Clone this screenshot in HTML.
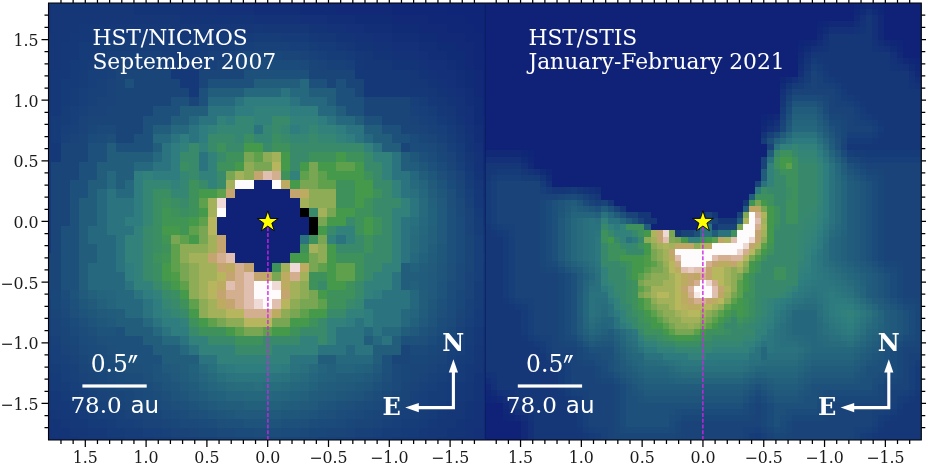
<!DOCTYPE html><html><head><meta charset="utf-8"><style>html,body{margin:0;padding:0;background:#fff;overflow:hidden}svg{display:block}text{white-space:pre}</style></head><body><svg width="926" height="471" viewBox="0 0 926 471"><defs><clipPath id="cl"><rect x="48.50" y="3.00" width="437.80" height="437.00"/></clipPath><clipPath id="cr"><rect x="485.30" y="3.00" width="436.00" height="437.00"/></clipPath></defs><rect width="926" height="471" fill="#fff"/><g clip-path="url(#cl)"><g transform="translate(42.295 -3.855) scale(9.1900 9.1900)" shape-rendering="crispEdges"><path fill="#153978" d="M0 0h1v1h-1zM4 3h10v1h-10zM23 3h1v1h-1zM3 4h3v1h-3zM13 4h6v1h-6zM29 4h1v1h-1zM2 5h2v1h-2zM32 5h1v1h-1zM2 6h2v1h-2zM34 6h1v1h-1zM2 7h1v1h-1zM34 7h1v1h-1zM1 8h2v1h-2zM14 8h3v1h-3zM34 8h6v1h-6zM1 9h1v1h-1zM15 9h2v1h-2zM35 9h5v1h-5zM1 10h1v1h-1zM16 10h1v1h-1zM35 10h7v1h-7zM1 11h1v1h-1zM42 11h1v1h-1zM1 12h1v1h-1zM43 12h1v1h-1zM44 13h1v1h-1zM45 15h1v1h-1zM0 16h2v1h-2zM0 17h2v1h-2zM0 18h1v1h-1zM46 18h1v1h-1zM0 19h1v1h-1zM0 20h1v1h-1zM0 21h1v1h-1zM47 21h1v1h-1zM0 22h1v1h-1zM47 22h1v1h-1zM0 23h1v1h-1zM0 24h1v1h-1zM0 25h1v1h-1zM0 26h1v1h-1zM48 26h1v1h-1zM0 27h1v1h-1zM48 27h1v1h-1zM48 29h1v1h-1zM48 30h1v1h-1zM48 31h1v1h-1zM48 32h1v1h-1zM47 36h1v1h-1zM47 37h1v1h-1zM46 40h1v1h-1zM0 41h1v1h-1zM46 41h1v1h-1zM0 42h1v1h-1zM45 42h1v1h-1zM1 43h1v1h-1zM45 43h1v1h-1zM1 44h2v1h-2zM44 44h1v1h-1zM2 45h2v1h-2zM43 45h1v1h-1zM3 46h2v1h-2zM42 46h1v1h-1zM5 47h2v1h-2zM41 47h1v1h-1zM7 48h2v1h-2zM38 48h3v1h-3z"/><path fill="#153778" d="M1 0h5v1h-5zM1 1h9v1h-9zM1 2h14v1h-14zM1 3h3v1h-3zM14 3h9v1h-9zM24 3h5v1h-5zM0 4h3v1h-3zM30 4h2v1h-2zM0 5h2v1h-2zM33 5h1v1h-1zM0 6h2v1h-2zM35 6h1v1h-1zM0 7h2v1h-2zM35 7h3v1h-3zM0 8h1v1h-1zM40 8h1v1h-1zM0 9h1v1h-1zM40 9h2v1h-2zM0 10h1v1h-1zM42 10h1v1h-1zM0 11h1v1h-1zM43 11h1v1h-1zM0 12h1v1h-1zM44 12h1v1h-1zM0 13h1v1h-1zM0 14h1v1h-1zM45 14h1v1h-1zM0 15h1v1h-1zM46 17h1v1h-1zM47 20h1v1h-1zM48 25h1v1h-1zM48 33h1v1h-1zM48 34h1v1h-1zM48 35h1v1h-1zM47 38h1v1h-1zM47 39h1v1h-1zM47 40h1v1h-1zM46 42h1v1h-1zM0 43h1v1h-1zM46 43h1v1h-1zM0 44h1v1h-1zM45 44h1v1h-1zM1 45h1v1h-1zM44 45h2v1h-2zM2 46h1v1h-1zM43 46h2v1h-2zM3 47h2v1h-2zM42 47h2v1h-2zM4 48h3v1h-3zM41 48h2v1h-2z"/><path fill="#143478" d="M6 0h5v1h-5zM0 1h1v1h-1zM10 1h5v1h-5zM0 2h1v1h-1zM15 2h8v1h-8zM0 3h1v1h-1zM29 3h2v1h-2zM32 4h2v1h-2zM34 5h2v1h-2zM36 6h2v1h-2zM38 7h3v1h-3zM41 8h1v1h-1zM42 9h1v1h-1zM43 10h1v1h-1zM44 11h1v1h-1zM45 13h1v1h-1zM46 15h1v1h-1zM46 16h1v1h-1zM47 19h1v1h-1zM48 23h1v1h-1zM48 24h1v1h-1zM48 36h1v1h-1zM48 37h1v1h-1zM48 38h1v1h-1zM48 39h1v1h-1zM47 41h1v1h-1zM47 42h1v1h-1zM47 43h1v1h-1zM46 44h1v1h-1zM0 45h1v1h-1zM46 45h1v1h-1zM0 46h2v1h-2zM45 46h1v1h-1zM1 47h2v1h-2zM44 47h2v1h-2zM2 48h2v1h-2zM43 48h2v1h-2z"/><path fill="#133278" d="M11 0h5v1h-5zM15 1h4v1h-4zM23 2h5v1h-5zM31 3h2v1h-2zM34 4h2v1h-2zM36 5h2v1h-2zM38 6h3v1h-3zM41 7h1v1h-1zM42 8h1v1h-1zM43 9h1v1h-1zM44 10h1v1h-1zM45 11h1v1h-1zM45 12h1v1h-1zM46 14h1v1h-1zM47 17h1v1h-1zM47 18h1v1h-1zM48 22h1v1h-1zM48 40h1v1h-1zM48 41h1v1h-1zM48 42h1v1h-1zM48 43h1v1h-1zM47 44h2v1h-2zM47 45h1v1h-1zM46 46h2v1h-2zM0 47h1v1h-1zM46 47h1v1h-1zM0 48h2v1h-2zM45 48h2v1h-2z"/><path fill="#133078" d="M16 0h2v1h-2zM19 1h4v1h-4zM28 2h3v1h-3zM33 3h2v1h-2zM36 4h2v1h-2zM38 5h3v1h-3zM41 6h1v1h-1zM42 7h2v1h-2zM43 8h2v1h-2zM44 9h1v1h-1zM45 10h1v1h-1zM46 12h1v1h-1zM46 13h1v1h-1zM47 16h1v1h-1zM48 20h1v1h-1zM48 21h1v1h-1zM48 45h1v1h-1zM48 46h1v1h-1zM47 47h2v1h-2zM47 48h2v1h-2z"/><path fill="#122e77" d="M18 0h3v1h-3zM23 1h5v1h-5zM31 2h3v1h-3zM35 3h3v1h-3zM38 4h3v1h-3zM41 5h2v1h-2zM42 6h2v1h-2zM44 7h1v1h-1zM45 8h1v1h-1zM45 9h1v1h-1zM46 10h1v1h-1zM46 11h1v1h-1zM47 14h1v1h-1zM47 15h1v1h-1zM48 19h1v1h-1z"/><path fill="#112c77" d="M21 0h2v1h-2zM28 1h4v1h-4zM34 2h4v1h-4zM38 3h3v1h-3zM41 4h2v1h-2zM43 5h2v1h-2zM44 6h2v1h-2zM45 7h1v1h-1zM46 8h1v1h-1zM46 9h1v1h-1zM47 11h1v1h-1zM47 12h1v1h-1zM47 13h1v1h-1zM48 17h1v1h-1zM48 18h1v1h-1z"/><path fill="#112977" d="M23 0h5v1h-5zM32 1h6v1h-6zM38 2h4v1h-4zM41 3h3v1h-3zM43 4h3v1h-3zM45 5h2v1h-2zM46 6h1v1h-1zM46 7h1v1h-1zM47 8h1v1h-1zM47 9h1v1h-1zM47 10h1v1h-1zM48 13h1v1h-1zM48 14h1v1h-1zM48 15h1v1h-1zM48 16h1v1h-1z"/><path fill="#102777" d="M28 0h9v1h-9zM38 1h6v1h-6zM42 2h4v1h-4zM44 3h3v1h-3zM46 4h2v1h-2zM47 5h1v1h-1zM47 6h2v1h-2zM47 7h2v1h-2zM48 8h1v1h-1zM48 9h1v1h-1zM48 10h1v1h-1zM48 11h1v1h-1zM48 12h1v1h-1z"/><path fill="#0f2577" d="M37 0h12v1h-12zM44 1h5v1h-5zM46 2h3v1h-3zM47 3h2v1h-2zM48 4h1v1h-1zM48 5h1v1h-1z"/><path fill="#163b79" d="M6 4h7v1h-7zM19 4h4v1h-4zM26 4h3v1h-3zM4 5h3v1h-3zM13 5h5v1h-5zM30 5h2v1h-2zM4 6h2v1h-2zM14 6h3v1h-3zM33 6h1v1h-1zM3 7h2v1h-2zM14 7h3v1h-3zM3 8h1v1h-1zM2 9h2v1h-2zM2 10h1v1h-1zM2 11h1v1h-1zM1 13h1v1h-1zM43 13h1v1h-1zM1 14h1v1h-1zM44 14h1v1h-1zM1 15h1v1h-1zM45 16h1v1h-1zM46 19h1v1h-1zM47 23h1v1h-1zM48 28h1v1h-1zM47 34h1v1h-1zM47 35h1v1h-1zM46 38h1v1h-1zM0 39h1v1h-1zM46 39h1v1h-1zM0 40h1v1h-1zM45 40h1v1h-1zM1 41h1v1h-1zM45 41h1v1h-1zM1 42h1v1h-1zM44 42h1v1h-1zM2 43h1v1h-1zM44 43h1v1h-1zM3 44h1v1h-1zM43 44h1v1h-1zM4 45h1v1h-1zM42 45h1v1h-1zM5 46h2v1h-2zM41 46h1v1h-1zM7 47h2v1h-2zM39 47h2v1h-2zM9 48h3v1h-3zM36 48h2v1h-2z"/><path fill="#173d79" d="M23 4h3v1h-3zM7 5h6v1h-6zM18 5h3v1h-3zM29 5h1v1h-1zM6 6h1v1h-1zM13 6h1v1h-1zM17 6h1v1h-1zM31 6h2v1h-2zM5 7h1v1h-1zM4 8h1v1h-1zM4 9h1v1h-1zM3 10h1v1h-1zM3 11h1v1h-1zM41 11h1v1h-1zM2 12h1v1h-1zM42 12h1v1h-1zM2 13h1v1h-1zM44 15h1v1h-1zM45 17h1v1h-1zM46 20h1v1h-1zM47 24h1v1h-1zM47 25h1v1h-1zM47 31h1v1h-1zM47 32h1v1h-1zM47 33h1v1h-1zM46 36h1v1h-1zM0 37h1v1h-1zM46 37h1v1h-1zM0 38h1v1h-1zM45 39h1v1h-1zM1 40h1v1h-1zM44 41h1v1h-1zM2 42h1v1h-1zM43 42h1v1h-1zM3 43h1v1h-1zM42 43h2v1h-2zM4 44h1v1h-1zM42 44h1v1h-1zM5 45h1v1h-1zM41 45h1v1h-1zM7 46h1v1h-1zM39 46h2v1h-2zM9 47h2v1h-2zM37 47h2v1h-2zM12 48h2v1h-2zM34 48h2v1h-2z"/><path fill="#173f79" d="M21 5h2v1h-2zM27 5h2v1h-2zM7 6h6v1h-6zM18 6h2v1h-2zM30 6h1v1h-1zM6 7h2v1h-2zM13 7h1v1h-1zM17 7h1v1h-1zM33 7h1v1h-1zM5 8h2v1h-2zM5 9h1v1h-1zM4 10h1v1h-1zM4 11h1v1h-1zM40 11h1v1h-1zM3 12h1v1h-1zM41 12h1v1h-1zM3 13h1v1h-1zM42 13h1v1h-1zM2 14h1v1h-1zM43 14h1v1h-1zM44 16h1v1h-1zM45 18h1v1h-1zM46 21h1v1h-1zM47 26h1v1h-1zM47 27h1v1h-1zM47 28h1v1h-1zM47 29h1v1h-1zM47 30h1v1h-1zM0 35h1v1h-1zM46 35h1v1h-1zM0 36h1v1h-1zM1 38h1v1h-1zM45 38h1v1h-1zM1 39h1v1h-1zM44 39h1v1h-1zM2 40h1v1h-1zM44 40h1v1h-1zM2 41h1v1h-1zM43 41h1v1h-1zM3 42h1v1h-1zM42 42h1v1h-1zM4 43h1v1h-1zM41 43h1v1h-1zM5 44h1v1h-1zM41 44h1v1h-1zM6 45h2v1h-2zM39 45h2v1h-2zM8 46h2v1h-2zM38 46h1v1h-1zM11 47h2v1h-2zM36 47h1v1h-1zM14 48h3v1h-3zM32 48h2v1h-2z"/><path fill="#184179" d="M23 5h4v1h-4zM20 6h1v1h-1zM29 6h1v1h-1zM8 7h5v1h-5zM18 7h1v1h-1zM31 7h2v1h-2zM7 8h1v1h-1zM6 9h1v1h-1zM5 10h2v1h-2zM5 11h1v1h-1zM4 12h1v1h-1zM40 12h1v1h-1zM41 13h1v1h-1zM3 14h1v1h-1zM42 14h1v1h-1zM2 15h1v1h-1zM43 15h1v1h-1zM46 22h1v1h-1zM0 33h1v1h-1zM46 33h1v1h-1zM0 34h1v1h-1zM46 34h1v1h-1zM45 36h1v1h-1zM1 37h1v1h-1zM45 37h1v1h-1zM44 38h1v1h-1zM2 39h1v1h-1zM3 40h1v1h-1zM43 40h1v1h-1zM3 41h1v1h-1zM42 41h1v1h-1zM4 42h1v1h-1zM41 42h1v1h-1zM5 43h1v1h-1zM40 43h1v1h-1zM6 44h2v1h-2zM40 44h1v1h-1zM8 45h1v1h-1zM38 45h1v1h-1zM10 46h1v1h-1zM37 46h1v1h-1zM13 47h1v1h-1zM34 47h2v1h-2zM17 48h2v1h-2zM30 48h2v1h-2z"/><path fill="#194379" d="M21 6h1v1h-1zM28 6h1v1h-1zM19 7h2v1h-2zM30 7h1v1h-1zM7 9h1v1h-1zM7 10h1v1h-1zM6 11h2v1h-2zM5 12h2v1h-2zM4 13h1v1h-1zM40 13h1v1h-1zM4 14h1v1h-1zM41 14h1v1h-1zM3 15h1v1h-1zM44 17h1v1h-1zM45 19h1v1h-1zM46 23h1v1h-1zM46 24h1v1h-1zM46 25h1v1h-1zM46 30h1v1h-1zM46 31h1v1h-1zM0 32h1v1h-1zM46 32h1v1h-1zM1 35h1v1h-1zM45 35h1v1h-1zM1 36h1v1h-1zM44 37h1v1h-1zM2 38h1v1h-1zM3 39h1v1h-1zM43 39h1v1h-1zM42 40h1v1h-1zM4 41h1v1h-1zM41 41h1v1h-1zM5 42h1v1h-1zM40 42h1v1h-1zM6 43h1v1h-1zM8 44h1v1h-1zM39 44h1v1h-1zM9 45h2v1h-2zM37 45h1v1h-1zM11 46h2v1h-2zM36 46h1v1h-1zM14 47h2v1h-2zM33 47h1v1h-1zM19 48h2v1h-2zM28 48h2v1h-2z"/><path fill="#194579" d="M22 6h2v1h-2zM26 6h2v1h-2zM21 7h1v1h-1zM29 7h1v1h-1zM8 8h6v1h-6zM17 8h5v1h-5zM29 8h5v1h-5zM8 9h1v1h-1zM10 9h5v1h-5zM17 9h1v1h-1zM31 9h1v1h-1zM33 9h2v1h-2zM8 10h8v1h-8zM34 10h1v1h-1zM8 11h6v1h-6zM16 11h1v1h-1zM35 11h5v1h-5zM7 12h5v1h-5zM35 12h5v1h-5zM5 13h6v1h-6zM37 13h3v1h-3zM8 14h3v1h-3zM39 14h2v1h-2zM4 15h1v1h-1zM8 15h2v1h-2zM42 15h1v1h-1zM2 16h3v1h-3zM39 16h1v1h-1zM43 16h1v1h-1zM2 17h3v1h-3zM1 18h3v1h-3zM44 18h1v1h-1zM1 19h3v1h-3zM1 20h2v1h-2zM45 20h1v1h-1zM1 21h2v1h-2zM1 22h2v1h-2zM1 23h2v1h-2zM1 24h2v1h-2zM1 25h1v1h-1zM1 26h1v1h-1zM46 26h1v1h-1zM1 27h1v1h-1zM46 27h1v1h-1zM0 28h2v1h-2zM46 28h1v1h-1zM0 29h2v1h-2zM46 29h1v1h-1zM0 30h2v1h-2zM0 31h2v1h-2zM1 34h1v1h-1zM45 34h1v1h-1zM2 36h1v1h-1zM2 37h1v1h-1zM3 38h1v1h-1zM39 38h1v1h-1zM43 38h1v1h-1zM38 39h2v1h-2zM42 39h1v1h-1zM4 40h1v1h-1zM40 40h2v1h-2zM5 41h1v1h-1zM40 41h1v1h-1zM6 42h1v1h-1zM39 42h1v1h-1zM7 43h2v1h-2zM39 43h1v1h-1zM9 44h1v1h-1zM38 44h1v1h-1zM11 45h1v1h-1zM36 45h1v1h-1zM13 46h1v1h-1zM34 46h2v1h-2zM16 47h1v1h-1zM31 47h2v1h-2zM21 48h2v1h-2zM26 48h2v1h-2z"/><path fill="#1a477a" d="M24 6h2v1h-2zM5 14h1v1h-1zM41 15h1v1h-1zM43 17h1v1h-1zM45 21h1v1h-1zM1 32h1v1h-1zM45 32h1v1h-1zM1 33h1v1h-1zM45 33h1v1h-1zM2 35h1v1h-1zM44 36h1v1h-1zM3 37h1v1h-1zM43 37h1v1h-1zM42 38h1v1h-1zM4 39h1v1h-1zM40 39h2v1h-2zM5 40h1v1h-1zM39 40h1v1h-1zM6 41h1v1h-1zM39 41h1v1h-1zM7 42h1v1h-1zM9 43h1v1h-1zM38 43h1v1h-1zM10 44h1v1h-1zM37 44h1v1h-1zM12 45h1v1h-1zM35 45h1v1h-1zM14 46h1v1h-1zM33 46h1v1h-1zM17 47h2v1h-2zM29 47h2v1h-2zM23 48h3v1h-3z"/><path fill="#1b497a" d="M22 7h1v1h-1zM28 7h1v1h-1zM6 14h2v1h-2zM42 16h1v1h-1zM44 19h1v1h-1zM45 22h1v1h-1zM45 23h1v1h-1zM45 29h1v1h-1zM45 30h1v1h-1zM45 31h1v1h-1zM2 34h1v1h-1zM44 35h1v1h-1zM3 36h1v1h-1zM4 38h1v1h-1zM40 38h2v1h-2zM5 39h1v1h-1zM6 40h1v1h-1zM38 40h1v1h-1zM7 41h1v1h-1zM38 41h1v1h-1zM8 42h2v1h-2zM38 42h1v1h-1zM10 43h1v1h-1zM37 43h1v1h-1zM11 44h1v1h-1zM36 44h1v1h-1zM13 45h1v1h-1zM34 45h1v1h-1zM15 46h2v1h-2zM32 46h1v1h-1zM19 47h2v1h-2zM28 47h1v1h-1z"/><path fill="#1b4b7a" d="M23 7h5v1h-5zM5 15h1v1h-1zM40 15h1v1h-1zM41 16h1v1h-1zM43 18h1v1h-1zM44 20h1v1h-1zM45 24h1v1h-1zM45 25h1v1h-1zM45 26h1v1h-1zM45 27h1v1h-1zM45 28h1v1h-1zM2 33h1v1h-1zM44 33h1v1h-1zM44 34h1v1h-1zM3 35h1v1h-1zM43 36h1v1h-1zM4 37h1v1h-1zM42 37h1v1h-1zM5 38h1v1h-1zM6 39h1v1h-1zM7 40h1v1h-1zM8 41h1v1h-1zM10 42h1v1h-1zM11 43h1v1h-1zM12 44h1v1h-1zM35 44h1v1h-1zM14 45h1v1h-1zM33 45h1v1h-1zM17 46h1v1h-1zM30 46h2v1h-2zM21 47h2v1h-2zM26 47h2v1h-2z"/><path fill="#1d517b" d="M22 8h7v1h-7zM9 9h1v1h-1zM18 9h5v1h-5zM29 9h2v1h-2zM32 9h1v1h-1zM17 10h1v1h-1zM32 10h2v1h-2zM14 11h2v1h-2zM17 11h1v1h-1zM32 11h3v1h-3zM12 12h3v1h-3zM33 12h2v1h-2zM11 13h3v1h-3zM35 13h2v1h-2zM11 14h1v1h-1zM37 14h2v1h-2zM10 15h2v1h-2zM38 15h2v1h-2zM5 16h2v1h-2zM8 16h4v1h-4zM5 17h2v1h-2zM41 17h1v1h-1zM4 18h2v1h-2zM42 18h1v1h-1zM4 19h2v1h-2zM3 20h2v1h-2zM3 21h2v1h-2zM3 22h1v1h-1zM3 23h1v1h-1zM44 23h1v1h-1zM3 24h1v1h-1zM44 24h1v1h-1zM2 25h2v1h-2zM44 25h1v1h-1zM2 26h2v1h-2zM44 26h1v1h-1zM2 27h2v1h-2zM44 27h1v1h-1zM2 28h2v1h-2zM44 28h1v1h-1zM2 29h2v1h-2zM2 30h2v1h-2zM2 31h2v1h-2zM3 33h1v1h-1zM43 33h1v1h-1zM8 36h1v1h-1zM7 37h4v1h-4zM39 37h2v1h-2zM8 38h4v1h-4zM8 39h5v1h-5zM37 39h1v1h-1zM11 40h1v1h-1zM37 40h1v1h-1zM36 42h1v1h-1zM15 44h1v1h-1zM32 44h1v1h-1zM17 45h1v1h-1zM30 45h1v1h-1zM20 46h2v1h-2zM26 46h2v1h-2z"/><path fill="#225e7c" d="M23 9h5v1h-5zM18 10h4v1h-4zM29 10h3v1h-3zM31 11h1v1h-1zM15 12h3v1h-3zM32 12h1v1h-1zM14 13h2v1h-2zM34 13h1v1h-1zM12 14h2v1h-2zM35 14h2v1h-2zM36 15h2v1h-2zM7 16h1v1h-1zM12 16h1v1h-1zM37 16h2v1h-2zM7 17h5v1h-5zM39 17h1v1h-1zM6 18h4v1h-4zM39 18h1v1h-1zM6 19h1v1h-1zM8 19h2v1h-2zM41 19h1v1h-1zM5 20h2v1h-2zM8 20h1v1h-1zM5 21h1v1h-1zM42 21h1v1h-1zM4 22h2v1h-2zM4 23h2v1h-2zM4 24h2v1h-2zM4 25h1v1h-1zM4 26h1v1h-1zM4 27h2v1h-2zM42 27h1v1h-1zM4 28h2v1h-2zM4 29h1v1h-1zM39 29h1v1h-1zM41 29h1v1h-1zM4 30h1v1h-1zM39 30h2v1h-2zM4 31h1v1h-1zM39 31h1v1h-1zM41 32h1v1h-1zM41 33h1v1h-1zM8 34h1v1h-1zM8 35h3v1h-3zM9 36h3v1h-3zM39 36h1v1h-1zM11 37h2v1h-2zM35 37h1v1h-1zM38 37h1v1h-1zM12 38h3v1h-3zM36 38h3v1h-3zM13 39h4v1h-4zM30 39h2v1h-2zM36 39h1v1h-1zM15 40h1v1h-1zM32 41h2v1h-2zM30 42h1v1h-1zM20 44h2v1h-2zM26 44h1v1h-1z"/><path fill="#26687d" d="M28 9h1v1h-1zM22 10h4v1h-4zM27 10h2v1h-2zM18 11h3v1h-3zM28 11h3v1h-3zM30 12h2v1h-2zM16 13h1v1h-1zM32 13h2v1h-2zM14 14h2v1h-2zM12 15h2v1h-2zM35 15h1v1h-1zM12 17h1v1h-1zM10 18h2v1h-2zM7 19h1v1h-1zM7 20h1v1h-1zM9 20h1v1h-1zM6 21h1v1h-1zM8 21h2v1h-2zM6 22h1v1h-1zM6 23h1v1h-1zM6 24h1v1h-1zM41 24h1v1h-1zM5 25h2v1h-2zM5 26h3v1h-3zM6 27h2v1h-2zM6 28h2v1h-2zM40 28h1v1h-1zM5 29h3v1h-3zM5 30h4v1h-4zM5 31h4v1h-4zM8 32h2v1h-2zM8 33h3v1h-3zM9 34h2v1h-2zM39 34h1v1h-1zM11 35h1v1h-1zM39 35h1v1h-1zM12 36h1v1h-1zM35 36h1v1h-1zM37 36h2v1h-2zM13 37h2v1h-2zM36 37h1v1h-1zM15 38h1v1h-1zM33 38h1v1h-1zM32 39h4v1h-4zM19 42h1v1h-1z"/><path fill="#2b737e" d="M26 10h1v1h-1zM21 11h1v1h-1zM27 11h1v1h-1zM18 12h3v1h-3zM17 13h2v1h-2zM31 13h1v1h-1zM16 14h1v1h-1zM23 14h1v1h-1zM33 14h2v1h-2zM14 15h1v1h-1zM16 15h1v1h-1zM34 15h1v1h-1zM13 16h1v1h-1zM36 16h1v1h-1zM13 17h1v1h-1zM17 17h1v1h-1zM38 17h1v1h-1zM12 18h2v1h-2zM17 18h1v1h-1zM38 18h1v1h-1zM38 19h2v1h-2zM39 20h1v1h-1zM7 21h1v1h-1zM39 21h1v1h-1zM7 22h3v1h-3zM7 23h3v1h-3zM7 24h2v1h-2zM39 24h1v1h-1zM7 25h3v1h-3zM39 25h1v1h-1zM8 26h1v1h-1zM28 26h1v1h-1zM32 26h1v1h-1zM39 26h1v1h-1zM8 27h1v1h-1zM39 27h1v1h-1zM8 28h1v1h-1zM39 28h1v1h-1zM8 29h1v1h-1zM38 30h1v1h-1zM9 31h1v1h-1zM38 31h1v1h-1zM10 32h1v1h-1zM37 32h3v1h-3zM11 33h1v1h-1zM35 33h5v1h-5zM11 34h1v1h-1zM36 34h3v1h-3zM12 35h1v1h-1zM34 35h1v1h-1zM36 35h3v1h-3zM13 36h1v1h-1zM32 36h3v1h-3zM36 36h1v1h-1zM15 37h1v1h-1zM32 37h3v1h-3zM37 37h1v1h-1zM16 38h1v1h-1zM30 38h3v1h-3zM34 38h2v1h-2zM17 39h2v1h-2zM27 39h3v1h-3zM20 41h1v1h-1zM25 41h1v1h-1z"/><path fill="#2f7d7f" d="M22 11h5v1h-5zM21 12h2v1h-2zM27 12h3v1h-3zM20 13h1v1h-1zM30 13h1v1h-1zM17 14h1v1h-1zM27 14h1v1h-1zM32 14h1v1h-1zM15 15h1v1h-1zM17 15h1v1h-1zM33 15h1v1h-1zM14 16h1v1h-1zM14 17h1v1h-1zM14 18h1v1h-1zM10 19h1v1h-1zM12 19h3v1h-3zM10 20h1v1h-1zM10 21h1v1h-1zM10 22h1v1h-1zM10 23h1v1h-1zM9 24h2v1h-2zM9 29h1v1h-1zM9 30h1v1h-1zM11 32h1v1h-1zM36 32h1v1h-1zM12 33h1v1h-1zM12 34h1v1h-1zM35 34h1v1h-1zM13 35h2v1h-2zM33 35h1v1h-1zM35 35h1v1h-1zM14 36h2v1h-2zM21 40h1v1h-1zM24 40h2v1h-2z"/><path fill="#32827b" d="M23 12h4v1h-4zM19 13h1v1h-1zM23 13h2v1h-2zM27 13h3v1h-3zM18 14h1v1h-1zM28 14h1v1h-1zM30 14h2v1h-2zM32 15h1v1h-1zM15 16h1v1h-1zM17 16h1v1h-1zM35 16h1v1h-1zM18 17h1v1h-1zM36 17h2v1h-2zM18 18h1v1h-1zM37 18h1v1h-1zM11 19h1v1h-1zM17 19h2v1h-2zM27 19h1v1h-1zM37 19h1v1h-1zM14 20h1v1h-1zM18 20h1v1h-1zM38 20h1v1h-1zM38 21h1v1h-1zM39 22h1v1h-1zM38 23h2v1h-2zM38 24h1v1h-1zM10 25h1v1h-1zM32 25h2v1h-2zM38 25h1v1h-1zM9 26h2v1h-2zM31 26h1v1h-1zM33 26h1v1h-1zM38 26h1v1h-1zM9 27h2v1h-2zM38 27h1v1h-1zM9 28h2v1h-2zM38 28h1v1h-1zM10 29h1v1h-1zM37 29h2v1h-2zM10 30h1v1h-1zM36 30h2v1h-2zM10 31h2v1h-2zM35 31h3v1h-3zM12 32h1v1h-1zM35 32h1v1h-1zM13 34h1v1h-1zM33 34h2v1h-2zM15 35h1v1h-1zM31 35h2v1h-2zM31 36h1v1h-1zM16 37h2v1h-2zM28 37h2v1h-2zM31 37h1v1h-1zM17 38h4v1h-4zM25 38h5v1h-5zM19 39h8v1h-8z"/><path fill="#358672" d="M21 13h2v1h-2zM19 14h4v1h-4zM24 14h1v1h-1zM26 14h1v1h-1zM29 14h1v1h-1zM21 15h1v1h-1zM23 15h2v1h-2zM27 15h2v1h-2zM30 15h2v1h-2zM15 19h1v1h-1zM11 20h3v1h-3zM15 20h1v1h-1zM11 21h1v1h-1zM14 21h2v1h-2zM11 22h1v1h-1zM11 23h1v1h-1zM11 24h1v1h-1zM13 33h1v1h-1zM34 33h1v1h-1zM14 34h1v1h-1z"/><path fill="#388a6b" d="M25 13h2v1h-2zM25 14h1v1h-1zM18 15h3v1h-3zM26 15h1v1h-1zM29 15h1v1h-1zM16 16h1v1h-1zM18 16h1v1h-1zM20 16h2v1h-2zM24 16h1v1h-1zM27 16h8v1h-8zM15 17h2v1h-2zM19 17h1v1h-1zM27 17h2v1h-2zM35 17h1v1h-1zM16 18h1v1h-1zM27 18h1v1h-1zM35 18h2v1h-2zM16 19h1v1h-1zM19 19h1v1h-1zM36 19h1v1h-1zM17 20h1v1h-1zM19 20h1v1h-1zM36 20h2v1h-2zM37 21h1v1h-1zM15 22h1v1h-1zM36 22h3v1h-3zM29 23h1v1h-1zM36 23h2v1h-2zM33 24h1v1h-1zM37 24h1v1h-1zM11 25h1v1h-1zM31 25h1v1h-1zM37 25h1v1h-1zM11 26h1v1h-1zM34 26h1v1h-1zM36 26h2v1h-2zM11 27h1v1h-1zM32 27h3v1h-3zM36 27h2v1h-2zM11 28h1v1h-1zM35 28h3v1h-3zM11 29h1v1h-1zM35 29h2v1h-2zM11 30h1v1h-1zM35 30h1v1h-1zM12 31h1v1h-1zM30 31h1v1h-1zM34 31h1v1h-1zM13 32h1v1h-1zM34 32h1v1h-1zM14 33h1v1h-1zM33 33h1v1h-1zM15 34h1v1h-1zM31 34h2v1h-2zM30 35h1v1h-1zM16 36h1v1h-1zM28 36h3v1h-3zM18 37h3v1h-3zM24 37h4v1h-4zM30 37h1v1h-1zM21 38h4v1h-4z"/><path fill="#1c4d7a" d="M6 15h1v1h-1zM40 16h1v1h-1zM42 17h1v1h-1zM44 31h1v1h-1zM2 32h1v1h-1zM44 32h1v1h-1zM43 35h1v1h-1zM4 36h1v1h-1zM5 37h1v1h-1zM6 38h1v1h-1zM7 39h1v1h-1zM8 40h1v1h-1zM9 41h2v1h-2zM11 42h1v1h-1zM37 42h1v1h-1zM12 43h1v1h-1zM36 43h1v1h-1zM13 44h1v1h-1zM34 44h1v1h-1zM15 45h1v1h-1zM32 45h1v1h-1zM18 46h1v1h-1zM29 46h1v1h-1zM23 47h3v1h-3z"/><path fill="#1d4f7a" d="M7 15h1v1h-1zM43 19h1v1h-1zM44 21h1v1h-1zM44 22h1v1h-1zM44 29h1v1h-1zM44 30h1v1h-1zM3 34h1v1h-1zM43 34h1v1h-1zM4 35h1v1h-1zM5 36h1v1h-1zM42 36h1v1h-1zM6 37h1v1h-1zM41 37h1v1h-1zM7 38h1v1h-1zM9 40h2v1h-2zM11 41h1v1h-1zM37 41h1v1h-1zM12 42h1v1h-1zM13 43h1v1h-1zM35 43h1v1h-1zM14 44h1v1h-1zM33 44h1v1h-1zM16 45h1v1h-1zM31 45h1v1h-1zM19 46h1v1h-1zM28 46h1v1h-1z"/><path fill="#3b8e62" d="M22 15h1v1h-1zM25 15h1v1h-1zM15 18h1v1h-1zM12 21h2v1h-2zM12 22h1v1h-1zM14 22h1v1h-1zM12 23h1v1h-1zM15 23h1v1h-1zM12 24h1v1h-1zM12 25h1v1h-1zM12 26h1v1h-1zM12 27h1v1h-1zM12 29h1v1h-1zM12 30h1v1h-1zM14 32h1v1h-1z"/><path fill="#3e915b" d="M19 16h1v1h-1zM25 16h2v1h-2zM20 17h2v1h-2zM29 17h3v1h-3zM33 17h2v1h-2zM19 18h2v1h-2zM26 19h1v1h-1zM35 19h1v1h-1zM16 20h1v1h-1zM32 20h2v1h-2zM16 21h1v1h-1zM32 21h2v1h-2zM36 21h1v1h-1zM13 22h1v1h-1zM16 22h1v1h-1zM32 22h2v1h-2zM35 22h1v1h-1zM14 23h1v1h-1zM16 23h1v1h-1zM34 23h2v1h-2zM34 24h1v1h-1zM36 24h1v1h-1zM34 25h1v1h-1zM36 25h1v1h-1zM29 26h1v1h-1zM35 26h1v1h-1zM13 27h1v1h-1zM28 27h1v1h-1zM35 27h1v1h-1zM12 28h1v1h-1zM32 28h3v1h-3zM25 29h1v1h-1zM34 29h1v1h-1zM29 30h2v1h-2zM34 30h1v1h-1zM13 31h1v1h-1zM29 31h1v1h-1zM33 31h1v1h-1zM31 32h3v1h-3zM15 33h1v1h-1zM31 33h2v1h-2zM16 35h1v1h-1zM29 35h1v1h-1zM17 36h3v1h-3zM27 36h1v1h-1zM21 37h3v1h-3z"/><path fill="#44994b" d="M22 16h2v1h-2zM26 17h1v1h-1zM32 17h1v1h-1zM21 18h1v1h-1zM26 18h1v1h-1zM28 18h1v1h-1zM30 18h2v1h-2zM34 18h1v1h-1zM31 19h4v1h-4zM27 20h1v1h-1zM34 20h2v1h-2zM17 21h2v1h-2zM34 21h2v1h-2zM34 22h1v1h-1zM17 23h1v1h-1zM32 23h2v1h-2zM16 24h1v1h-1zM31 24h2v1h-2zM35 24h1v1h-1zM13 25h2v1h-2zM30 25h1v1h-1zM35 25h1v1h-1zM16 26h1v1h-1zM31 27h1v1h-1zM27 28h2v1h-2zM31 28h1v1h-1zM13 29h1v1h-1zM31 29h1v1h-1zM13 30h1v1h-1zM31 30h1v1h-1zM14 31h1v1h-1zM31 31h2v1h-2zM15 32h1v1h-1zM30 32h1v1h-1zM16 34h1v1h-1zM29 34h2v1h-2zM17 35h1v1h-1zM27 35h2v1h-2zM20 36h1v1h-1zM25 36h2v1h-2z"/><path fill="#78a652" d="M22 17h1v1h-1zM23 18h2v1h-2zM29 18h1v1h-1zM20 19h1v1h-1zM29 19h1v1h-1zM28 20h2v1h-2zM31 23h1v1h-1zM30 24h1v1h-1zM17 25h1v1h-1zM14 26h1v1h-1zM17 26h1v1h-1zM30 26h1v1h-1zM29 28h1v1h-1zM15 29h1v1h-1zM29 29h1v1h-1zM15 30h1v1h-1zM25 30h1v1h-1zM29 32h1v1h-1zM28 33h2v1h-2zM27 34h1v1h-1zM19 35h1v1h-1zM25 35h2v1h-2zM22 36h2v1h-2z"/><path fill="#5ea04b" d="M23 17h1v1h-1zM32 18h2v1h-2zM28 19h1v1h-1zM30 19h1v1h-1zM30 20h2v1h-2zM19 21h1v1h-1zM17 22h1v1h-1zM17 24h1v1h-1zM16 25h1v1h-1zM15 26h1v1h-1zM14 27h1v1h-1zM14 28h1v1h-1zM14 29h1v1h-1zM30 29h1v1h-1zM32 29h2v1h-2zM32 30h2v1h-2zM15 31h1v1h-1zM16 33h1v1h-1zM30 33h1v1h-1zM28 34h1v1h-1zM18 35h1v1h-1zM21 36h1v1h-1zM24 36h1v1h-1z"/><path fill="#8eac56" d="M24 17h1v1h-1zM22 18h1v1h-1zM22 19h1v1h-1zM29 21h3v1h-3zM29 22h3v1h-3zM15 27h3v1h-3zM30 27h1v1h-1zM15 28h1v1h-1zM30 28h1v1h-1zM16 29h1v1h-1zM16 30h1v1h-1zM16 31h1v1h-1zM28 31h1v1h-1zM16 32h1v1h-1zM28 32h1v1h-1zM17 33h1v1h-1zM27 33h1v1h-1zM17 34h1v1h-1zM26 34h1v1h-1zM20 35h2v1h-2z"/><path fill="#a3b25a" d="M25 17h1v1h-1zM21 19h1v1h-1zM20 20h1v1h-1zM18 22h1v1h-1zM28 22h1v1h-1zM18 23h1v1h-1zM30 23h1v1h-1zM18 26h1v1h-1zM18 27h1v1h-1zM29 27h1v1h-1zM16 28h2v1h-2zM17 29h2v1h-2zM26 29h1v1h-1zM17 30h2v1h-2zM28 30h1v1h-1zM17 31h1v1h-1zM27 31h1v1h-1zM17 32h1v1h-1zM27 32h1v1h-1zM18 33h1v1h-1zM18 34h2v1h-2z"/><path fill="#1f577b" d="M40 17h1v1h-1zM41 18h1v1h-1zM42 19h1v1h-1zM43 21h1v1h-1zM43 27h1v1h-1zM43 28h1v1h-1zM4 33h1v1h-1zM42 33h1v1h-1zM5 34h1v1h-1zM6 35h1v1h-1zM34 42h1v1h-1zM32 43h1v1h-1zM17 44h1v1h-1zM20 45h1v1h-1zM26 45h2v1h-2z"/><path fill="#b7b65e" d="M25 18h1v1h-1zM18 24h1v1h-1zM18 25h1v1h-1zM19 30h1v1h-1zM18 31h1v1h-1zM18 32h1v1h-1zM26 33h1v1h-1zM20 34h2v1h-2zM22 35h3v1h-3z"/><path fill="#215c7c" d="M40 18h1v1h-1zM42 28h1v1h-1zM41 30h1v1h-1zM41 31h1v1h-1zM7 34h1v1h-1zM41 34h1v1h-1zM15 41h1v1h-1zM34 41h1v1h-1zM16 42h1v1h-1zM31 42h1v1h-1zM17 43h1v1h-1zM29 43h1v1h-1zM19 44h1v1h-1zM27 44h1v1h-1z"/><path fill="#c4a46f" d="M23 19h1v1h-1zM20 21h1v1h-1zM27 21h1v1h-1zM19 26h1v1h-1zM19 27h1v1h-1zM18 28h1v1h-1zM19 29h1v1h-1zM22 29h1v1h-1zM20 30h1v1h-1zM23 30h1v1h-1zM19 32h1v1h-1zM26 32h1v1h-1zM20 33h1v1h-1z"/><path fill="#e1bfb0" d="M24 19h1v1h-1zM20 28h1v1h-1zM22 30h1v1h-1zM20 31h1v1h-1zM22 31h1v1h-1zM22 32h1v1h-1zM22 33h1v1h-1zM25 33h1v1h-1z"/><path fill="#d3af8f" d="M25 19h1v1h-1zM19 28h1v1h-1zM21 29h1v1h-1zM21 30h1v1h-1zM27 30h1v1h-1zM21 31h1v1h-1zM20 32h2v1h-2zM21 33h1v1h-1zM22 34h3v1h-3z"/><path fill="#25677d" d="M40 19h1v1h-1zM41 21h1v1h-1zM41 25h1v1h-1zM40 32h1v1h-1zM40 33h1v1h-1zM27 42h1v1h-1zM22 43h3v1h-3z"/><path fill="#fdfbfb" d="M21 20h2v1h-2zM25 20h1v1h-1zM19 23h1v1h-1zM23 31h2v1h-2zM23 32h3v1h-3zM24 33h1v1h-1z"/><path fill="#0f2277" d="M23 20h2v1h-2zM21 21h6v1h-6zM20 22h8v1h-8zM20 23h8v1h-8zM19 24h10v1h-10zM19 25h10v1h-10zM20 26h8v1h-8zM20 27h8v1h-8zM21 28h6v1h-6zM23 29h2v1h-2z"/><path fill="#bdab62" d="M26 20h1v1h-1zM28 21h1v1h-1zM20 29h1v1h-1zM28 29h1v1h-1zM24 30h1v1h-1zM26 30h1v1h-1zM19 31h1v1h-1zM26 31h1v1h-1zM19 33h1v1h-1zM25 34h1v1h-1z"/><path fill="#276a7d" d="M40 20h1v1h-1zM41 22h1v1h-1zM41 23h1v1h-1zM17 40h1v1h-1zM29 40h1v1h-1zM18 41h1v1h-1zM28 41h1v1h-1zM26 42h1v1h-1z"/><path fill="#24647c" d="M41 20h1v1h-1zM6 32h1v1h-1zM7 33h1v1h-1zM40 34h1v1h-1zM30 40h1v1h-1zM32 40h2v1h-2zM26 43h1v1h-1z"/><path fill="#215a7b" d="M42 20h1v1h-1zM42 29h1v1h-1zM4 32h1v1h-1zM5 33h1v1h-1zM6 34h1v1h-1zM14 40h1v1h-1zM32 42h1v1h-1zM30 43h1v1h-1zM28 44h1v1h-1z"/><path fill="#1e537b" d="M43 20h1v1h-1zM43 31h1v1h-1zM3 32h1v1h-1zM43 32h1v1h-1zM4 34h1v1h-1zM5 35h1v1h-1zM42 35h1v1h-1zM6 36h2v1h-2zM41 36h1v1h-1zM12 40h1v1h-1zM12 41h1v1h-1zM13 42h1v1h-1zM14 43h1v1h-1zM34 43h1v1h-1zM16 44h1v1h-1zM31 44h1v1h-1zM18 45h1v1h-1zM29 45h1v1h-1zM22 46h4v1h-4z"/><path fill="#296f7e" d="M40 21h1v1h-1zM28 40h1v1h-1zM23 42h1v1h-1z"/><path fill="#f0dad7" d="M19 22h1v1h-1zM27 29h1v1h-1zM25 31h1v1h-1zM23 33h1v1h-1z"/><path fill="#2b757e" d="M40 22h1v1h-1zM40 23h1v1h-1zM21 41h4v1h-4z"/><path fill="#23607c" d="M42 22h1v1h-1zM42 25h1v1h-1zM42 26h1v1h-1zM40 31h1v1h-1zM5 32h1v1h-1zM6 33h1v1h-1zM40 35h1v1h-1zM31 40h1v1h-1zM35 40h1v1h-1zM16 41h1v1h-1zM31 41h1v1h-1zM18 43h1v1h-1zM28 43h1v1h-1zM22 44h4v1h-4z"/><path fill="#20597b" d="M43 22h1v1h-1zM43 23h1v1h-1zM43 24h1v1h-1zM43 25h1v1h-1zM43 26h1v1h-1zM42 30h1v1h-1zM42 31h1v1h-1zM42 32h1v1h-1zM7 35h1v1h-1zM41 35h1v1h-1zM40 36h1v1h-1zM13 40h1v1h-1zM36 40h1v1h-1zM14 41h1v1h-1zM35 41h1v1h-1zM15 42h1v1h-1zM33 42h1v1h-1zM16 43h1v1h-1zM31 43h1v1h-1zM18 44h1v1h-1zM29 44h1v1h-1zM21 45h5v1h-5z"/><path fill="#419554" d="M13 23h1v1h-1zM13 24h3v1h-3zM15 25h1v1h-1zM13 26h1v1h-1zM13 28h1v1h-1z"/><path fill="#000000" d="M28 23h1v1h-1zM29 24h1v1h-1zM29 25h1v1h-1z"/><path fill="#23627c" d="M42 23h1v1h-1zM42 24h1v1h-1zM41 28h1v1h-1zM40 29h1v1h-1zM16 40h1v1h-1zM34 40h1v1h-1zM30 41h1v1h-1zM17 42h1v1h-1zM29 42h1v1h-1zM19 43h1v1h-1zM27 43h1v1h-1z"/><path fill="#29707e" d="M40 24h1v1h-1zM18 40h1v1h-1zM19 41h1v1h-1z"/><path fill="#286d7d" d="M40 25h1v1h-1zM27 41h1v1h-1zM21 42h2v1h-2zM24 42h2v1h-2z"/><path fill="#276b7d" d="M40 26h1v1h-1zM40 27h1v1h-1zM20 42h1v1h-1z"/><path fill="#25657d" d="M41 26h1v1h-1zM41 27h1v1h-1zM7 32h1v1h-1zM17 41h1v1h-1zM29 41h1v1h-1zM18 42h1v1h-1zM28 42h1v1h-1zM20 43h2v1h-2zM25 43h1v1h-1z"/><path fill="#1f557b" d="M43 29h1v1h-1zM43 30h1v1h-1zM42 34h1v1h-1zM13 41h1v1h-1zM36 41h1v1h-1zM14 42h1v1h-1zM35 42h1v1h-1zM15 43h1v1h-1zM33 43h1v1h-1zM30 44h1v1h-1zM19 45h1v1h-1zM28 45h1v1h-1z"/><path fill="#4e9c47" d="M14 30h1v1h-1z"/><path fill="#2d787f" d="M19 40h1v1h-1z"/><path fill="#2e7b7f" d="M20 40h1v1h-1z"/><path fill="#2f7e7f" d="M22 40h2v1h-2z"/><path fill="#2d7a7f" d="M26 40h1v1h-1z"/><path fill="#2a727e" d="M27 40h1v1h-1zM26 41h1v1h-1z"/></g></g><g clip-path="url(#cr)"><g transform="translate(478.425 -3.275) scale(6.1500 6.1500)" shape-rendering="crispEdges"><path fill="#0f2277" d="M0 0h73v1h-73zM0 1h61v1h-61zM66 1h7v1h-7zM0 2h61v1h-61zM66 2h7v1h-7zM0 3h61v1h-61zM66 3h7v1h-7zM0 4h55v1h-55zM66 4h7v1h-7zM0 5h55v1h-55zM66 5h7v1h-7zM0 6h55v1h-55zM66 6h7v1h-7zM0 7h52v1h-52zM69 7h4v1h-4zM0 8h52v1h-52zM69 8h4v1h-4zM0 9h52v1h-52zM69 9h4v1h-4zM0 10h52v1h-52zM72 10h1v1h-1zM0 11h52v1h-52zM72 11h1v1h-1zM0 12h52v1h-52zM72 12h1v1h-1zM0 13h49v1h-49zM0 14h49v1h-49zM0 15h49v1h-49zM0 16h49v1h-49zM0 17h49v1h-49zM0 18h49v1h-49zM0 19h46v1h-46zM0 20h46v1h-46zM0 21h46v1h-46zM0 22h46v1h-46zM0 23h46v1h-46zM0 24h47v1h-47zM9 25h38v1h-38zM9 26h37v1h-37zM9 27h37v1h-37zM12 28h34v1h-34zM12 29h34v1h-34zM12 30h33v1h-33zM20 31h25v1h-25zM20 32h24v1h-24zM22 33h21v1h-21zM24 34h19v1h-19zM28 35h8v1h-8zM39 35h3v1h-3zM29 36h8v1h-8zM28 37h8v1h-8zM0 63h1v1h-1zM0 64h1v1h-1zM0 65h1v1h-1zM0 66h4v1h-4zM0 67h4v1h-4zM0 68h4v1h-4zM0 69h7v1h-7zM0 70h7v1h-7zM0 71h7v1h-7zM0 72h7v1h-7z"/><path fill="#0f2577" d="M61 1h1v1h-1zM65 1h1v1h-1zM55 4h1v1h-1zM52 7h1v1h-1zM68 7h1v1h-1zM71 10h1v1h-1zM46 19h1v1h-1zM8 25h1v1h-1zM1 65h1v1h-1zM4 68h1v1h-1z"/><path fill="#102777" d="M62 1h1v1h-1zM64 1h1v1h-1zM61 2h1v1h-1zM65 2h1v1h-1zM56 4h1v1h-1zM55 5h1v1h-1zM53 7h1v1h-1zM67 7h1v1h-1zM52 8h1v1h-1zM68 8h1v1h-1zM70 10h1v1h-1zM71 11h1v1h-1zM49 13h1v1h-1zM47 19h1v1h-1zM46 20h1v1h-1zM7 25h1v1h-1zM8 26h1v1h-1zM11 28h1v1h-1zM1 64h1v1h-1zM2 65h1v1h-1zM4 67h1v1h-1zM5 68h1v1h-1z"/><path fill="#112977" d="M63 1h1v1h-1zM61 3h1v1h-1zM65 3h1v1h-1zM57 4h4v1h-4zM65 4h1v1h-1zM65 5h1v1h-1zM55 6h1v1h-1zM65 6h1v1h-1zM54 7h1v1h-1zM66 7h1v1h-1zM52 9h1v1h-1zM68 9h1v1h-1zM69 10h1v1h-1zM71 12h1v1h-1zM72 13h1v1h-1zM48 19h1v1h-1zM46 21h1v1h-1zM0 25h7v1h-7zM8 27h1v1h-1zM0 62h1v1h-1zM1 63h1v1h-1zM3 65h1v1h-1zM4 66h1v1h-1zM6 68h1v1h-1zM7 69h1v1h-1zM7 70h1v1h-1zM7 71h1v1h-1zM7 72h1v1h-1z"/><path fill="#112c77" d="M62 2h1v1h-1zM64 2h1v1h-1zM56 5h1v1h-1zM53 8h1v1h-1zM67 8h1v1h-1zM52 10h1v1h-1zM70 11h1v1h-1zM50 13h1v1h-1zM49 14h1v1h-1zM47 20h1v1h-1zM7 26h1v1h-1zM10 28h1v1h-1zM11 29h1v1h-1zM2 64h1v1h-1zM5 67h1v1h-1z"/><path fill="#133078" d="M63 2h1v1h-1zM62 3h1v1h-1zM64 3h1v1h-1zM64 4h1v1h-1zM57 5h4v1h-4zM64 5h1v1h-1zM56 6h1v1h-1zM64 6h1v1h-1zM54 8h1v1h-1zM66 8h1v1h-1zM53 9h1v1h-1zM67 9h1v1h-1zM69 11h1v1h-1zM52 12h1v1h-1zM70 12h1v1h-1zM51 13h1v1h-1zM72 14h1v1h-1zM49 15h1v1h-1zM48 20h1v1h-1zM47 21h1v1h-1zM0 26h7v1h-7zM7 27h1v1h-1zM9 28h1v1h-1zM11 30h1v1h-1zM18 31h1v1h-1zM0 61h1v1h-1zM2 63h1v1h-1zM3 64h1v1h-1zM5 66h1v1h-1zM6 67h1v1h-1zM8 69h1v1h-1zM8 70h1v1h-1zM8 71h1v1h-1zM8 72h1v1h-1z"/><path fill="#153778" d="M63 3h1v1h-1zM63 4h1v1h-1zM63 5h1v1h-1zM57 6h7v1h-7zM57 7h7v1h-7zM57 8h7v1h-7zM54 9h13v1h-13zM56 10h11v1h-11zM53 11h1v1h-1zM57 11h10v1h-10zM57 12h13v1h-13zM52 13h1v1h-1zM59 13h11v1h-11zM60 14h10v1h-10zM60 15h13v1h-13zM62 16h11v1h-11zM49 17h1v1h-1zM63 17h10v1h-10zM63 18h10v1h-10zM65 19h8v1h-8zM66 20h7v1h-7zM48 21h1v1h-1zM66 21h7v1h-7zM66 22h7v1h-7zM65 23h8v1h-8zM60 24h13v1h-13zM0 27h7v1h-7zM0 28h2v1h-2zM7 28h1v1h-1zM0 29h1v1h-1zM0 30h1v1h-1zM0 31h1v1h-1zM12 31h2v1h-2zM16 31h1v1h-1zM0 32h1v1h-1zM19 32h1v1h-1zM0 33h1v1h-1zM21 33h1v1h-1zM43 33h1v1h-1zM0 34h1v1h-1zM23 34h1v1h-1zM0 35h1v1h-1zM26 35h2v1h-2zM36 35h1v1h-1zM38 35h1v1h-1zM0 36h1v1h-1zM27 36h2v1h-2zM39 36h3v1h-3zM0 37h1v1h-1zM38 37h1v1h-1zM0 38h2v1h-2zM32 38h1v1h-1zM0 39h4v1h-4zM0 40h4v1h-4zM0 41h4v1h-4zM0 42h4v1h-4zM0 43h4v1h-4zM0 44h4v1h-4zM0 45h4v1h-4zM0 46h4v1h-4zM0 47h4v1h-4zM0 48h4v1h-4zM0 49h4v1h-4zM0 50h5v1h-5zM0 51h7v1h-7zM0 52h7v1h-7zM0 53h7v1h-7zM0 54h7v1h-7zM0 55h7v1h-7zM0 56h8v1h-8zM0 57h10v1h-10zM0 58h10v1h-10zM0 59h11v1h-11zM0 60h13v1h-13zM72 60h1v1h-1zM3 61h10v1h-10zM72 61h1v1h-1zM3 62h10v1h-10zM72 62h1v1h-1zM3 63h10v1h-10zM72 63h1v1h-1zM6 64h7v1h-7zM72 64h1v1h-1zM6 65h8v1h-8zM71 65h2v1h-2zM6 66h10v1h-10zM69 66h4v1h-4zM9 67h7v1h-7zM69 67h4v1h-4zM9 68h7v1h-7zM68 68h5v1h-5zM9 69h7v1h-7zM66 69h7v1h-7zM9 70h7v1h-7zM66 70h7v1h-7zM9 71h8v1h-8zM65 71h8v1h-8zM9 72h10v1h-10zM45 72h1v1h-1zM63 72h10v1h-10z"/><path fill="#122e77" d="M61 4h1v1h-1zM55 7h1v1h-1zM65 7h1v1h-1zM68 10h1v1h-1zM52 11h1v1h-1zM71 13h1v1h-1zM19 31h1v1h-1zM1 62h1v1h-1zM4 65h1v1h-1zM7 68h1v1h-1z"/><path fill="#133278" d="M62 4h1v1h-1zM61 5h1v1h-1zM56 7h1v1h-1zM64 7h1v1h-1zM55 8h1v1h-1zM65 8h1v1h-1zM67 10h1v1h-1zM68 11h1v1h-1zM70 13h1v1h-1zM71 14h1v1h-1zM1 61h1v1h-1zM2 62h1v1h-1zM4 64h1v1h-1zM5 65h1v1h-1zM7 67h1v1h-1zM8 68h1v1h-1z"/><path fill="#143478" d="M62 5h1v1h-1zM56 8h1v1h-1zM64 8h1v1h-1zM53 10h1v1h-1zM67 11h1v1h-1zM50 14h1v1h-1zM70 14h1v1h-1zM49 16h1v1h-1zM46 22h1v1h-1zM8 28h1v1h-1zM10 29h1v1h-1zM17 31h1v1h-1zM2 61h1v1h-1zM5 64h1v1h-1zM8 67h1v1h-1z"/><path fill="#163b79" d="M54 10h1v1h-1zM53 12h1v1h-1zM56 12h1v1h-1zM57 13h1v1h-1zM51 14h1v1h-1zM50 15h1v1h-1zM59 15h1v1h-1zM60 16h1v1h-1zM49 18h1v1h-1zM62 18h1v1h-1zM63 19h1v1h-1zM65 21h1v1h-1zM60 23h4v1h-4zM63 25h10v1h-10zM3 28h4v1h-4zM9 29h1v1h-1zM1 30h1v1h-1zM10 30h1v1h-1zM1 31h1v1h-1zM11 31h1v1h-1zM15 31h1v1h-1zM1 32h1v1h-1zM18 32h1v1h-1zM1 33h1v1h-1zM1 34h1v1h-1zM1 35h1v1h-1zM1 36h1v1h-1zM3 38h1v1h-1zM4 39h1v1h-1zM4 40h1v1h-1zM4 41h1v1h-1zM4 42h1v1h-1zM4 43h1v1h-1zM4 44h1v1h-1zM4 45h1v1h-1zM4 46h1v1h-1zM4 47h1v1h-1zM4 48h1v1h-1zM6 50h1v1h-1zM7 51h1v1h-1zM7 52h1v1h-1zM7 53h1v1h-1zM7 54h1v1h-1zM9 56h1v1h-1zM10 57h1v1h-1zM12 59h1v1h-1zM72 59h1v1h-1zM13 60h1v1h-1zM71 60h1v1h-1zM13 61h1v1h-1zM71 61h1v1h-1zM13 62h1v1h-1zM71 62h1v1h-1zM13 63h1v1h-1zM71 63h1v1h-1zM15 65h1v1h-1zM69 65h1v1h-1zM16 66h1v1h-1zM68 66h1v1h-1zM16 67h1v1h-1zM16 68h1v1h-1zM66 68h1v1h-1zM16 69h1v1h-1zM65 69h1v1h-1zM18 71h1v1h-1zM45 71h1v1h-1zM63 71h1v1h-1zM19 72h1v1h-1zM44 72h1v1h-1zM46 72h1v1h-1zM62 72h1v1h-1z"/><path fill="#153978" d="M55 10h1v1h-1zM56 11h1v1h-1zM58 13h1v1h-1zM59 14h1v1h-1zM61 16h1v1h-1zM62 17h1v1h-1zM64 19h1v1h-1zM65 20h1v1h-1zM65 22h1v1h-1zM64 23h1v1h-1zM2 28h1v1h-1zM1 29h1v1h-1zM14 31h1v1h-1zM1 37h1v1h-1zM2 38h1v1h-1zM4 49h1v1h-1zM5 50h1v1h-1zM7 55h1v1h-1zM8 56h1v1h-1zM10 58h1v1h-1zM11 59h1v1h-1zM13 64h1v1h-1zM71 64h1v1h-1zM14 65h1v1h-1zM70 65h1v1h-1zM68 67h1v1h-1zM67 68h1v1h-1zM16 70h1v1h-1zM65 70h1v1h-1zM17 71h1v1h-1zM64 71h1v1h-1z"/><path fill="#173f79" d="M54 11h1v1h-1zM55 12h1v1h-1zM57 14h1v1h-1zM58 15h1v1h-1zM60 17h1v1h-1zM61 18h1v1h-1zM49 19h1v1h-1zM63 20h1v1h-1zM64 21h1v1h-1zM60 22h4v1h-4zM60 25h1v1h-1zM63 26h10v1h-10zM3 29h4v1h-4zM2 30h1v1h-1zM2 31h1v1h-1zM10 31h1v1h-1zM2 32h1v1h-1zM2 33h1v1h-1zM19 33h1v1h-1zM2 34h1v1h-1zM2 35h1v1h-1zM2 36h1v1h-1zM3 37h1v1h-1zM5 39h1v1h-1zM5 40h1v1h-1zM5 41h1v1h-1zM5 42h1v1h-1zM5 43h1v1h-1zM5 44h1v1h-1zM5 45h1v1h-1zM5 46h1v1h-1zM5 47h1v1h-1zM5 48h1v1h-1zM6 49h1v1h-1zM8 51h1v1h-1zM8 52h1v1h-1zM8 53h1v1h-1zM8 54h1v1h-1zM9 55h1v1h-1zM11 57h1v1h-1zM12 58h1v1h-1zM72 58h1v1h-1zM14 60h1v1h-1zM70 60h1v1h-1zM14 61h1v1h-1zM70 61h1v1h-1zM14 62h1v1h-1zM70 62h1v1h-1zM14 63h1v1h-1zM70 63h1v1h-1zM15 64h1v1h-1zM69 64h1v1h-1zM17 66h1v1h-1zM67 66h1v1h-1zM17 67h1v1h-1zM66 67h1v1h-1zM17 68h1v1h-1zM17 69h1v1h-1zM64 69h1v1h-1zM18 70h1v1h-1zM45 70h1v1h-1zM63 70h1v1h-1zM46 71h1v1h-1zM20 72h1v1h-1zM43 72h1v1h-1zM47 72h1v1h-1zM61 72h1v1h-1z"/><path fill="#173d79" d="M55 11h1v1h-1zM53 13h1v1h-1zM56 13h1v1h-1zM52 14h1v1h-1zM58 14h1v1h-1zM59 16h1v1h-1zM61 17h1v1h-1zM62 19h1v1h-1zM64 20h1v1h-1zM64 22h1v1h-1zM46 23h1v1h-1zM61 25h2v1h-2zM2 29h1v1h-1zM7 29h2v1h-2zM2 37h1v1h-1zM4 38h1v1h-1zM5 49h1v1h-1zM7 50h1v1h-1zM8 55h1v1h-1zM10 56h1v1h-1zM11 58h1v1h-1zM13 59h1v1h-1zM71 59h1v1h-1zM14 64h1v1h-1zM70 64h1v1h-1zM16 65h1v1h-1zM68 65h1v1h-1zM67 67h1v1h-1zM65 68h1v1h-1zM17 70h1v1h-1zM64 70h1v1h-1zM19 71h1v1h-1zM44 71h1v1h-1zM62 71h1v1h-1z"/><path fill="#194379" d="M54 12h1v1h-1zM54 13h1v1h-1zM54 14h1v1h-1zM51 15h7v1h-7zM57 16h1v1h-1zM57 17h1v1h-1zM57 18h4v1h-4zM60 19h1v1h-1zM49 20h1v1h-1zM60 20h1v1h-1zM60 21h4v1h-4zM47 24h1v1h-1zM59 24h1v1h-1zM46 26h1v1h-1zM46 27h1v1h-1zM63 27h10v1h-10zM66 28h7v1h-7zM66 29h7v1h-7zM3 30h7v1h-7zM45 30h1v1h-1zM66 30h7v1h-7zM3 31h7v1h-7zM66 31h7v1h-7zM3 32h10v1h-10zM66 32h7v1h-7zM3 33h7v1h-7zM18 33h1v1h-1zM20 33h1v1h-1zM66 33h7v1h-7zM3 34h7v1h-7zM22 34h1v1h-1zM66 34h7v1h-7zM3 35h7v1h-7zM24 35h2v1h-2zM37 35h1v1h-1zM42 35h1v1h-1zM66 35h7v1h-7zM3 36h7v1h-7zM26 36h1v1h-1zM38 36h1v1h-1zM66 36h7v1h-7zM6 37h4v1h-4zM39 37h3v1h-3zM66 37h7v1h-7zM6 38h4v1h-4zM33 38h2v1h-2zM66 38h7v1h-7zM6 39h4v1h-4zM66 39h7v1h-7zM6 40h4v1h-4zM66 40h7v1h-7zM6 41h4v1h-4zM66 41h7v1h-7zM6 42h4v1h-4zM66 42h7v1h-7zM6 43h4v1h-4zM69 43h4v1h-4zM6 44h4v1h-4zM69 44h4v1h-4zM6 45h7v1h-7zM69 45h4v1h-4zM6 46h7v1h-7zM69 46h4v1h-4zM6 47h7v1h-7zM69 47h4v1h-4zM6 48h7v1h-7zM69 48h4v1h-4zM9 49h4v1h-4zM72 49h1v1h-1zM9 50h4v1h-4zM72 50h1v1h-1zM9 51h4v1h-4zM72 51h1v1h-1zM9 52h4v1h-4zM72 52h1v1h-1zM9 53h4v1h-4zM72 53h1v1h-1zM9 54h4v1h-4zM72 54h1v1h-1zM12 55h1v1h-1zM72 55h1v1h-1zM12 56h1v1h-1zM72 56h1v1h-1zM12 57h4v1h-4zM69 57h4v1h-4zM15 58h1v1h-1zM69 58h1v1h-1zM15 59h1v1h-1zM69 59h1v1h-1zM15 60h4v1h-4zM69 60h1v1h-1zM15 61h4v1h-4zM69 61h1v1h-1zM15 62h4v1h-4zM69 62h1v1h-1zM15 63h7v1h-7zM66 63h4v1h-4zM18 64h4v1h-4zM66 64h1v1h-1zM18 65h4v1h-4zM66 65h1v1h-1zM18 66h4v1h-4zM45 66h1v1h-1zM57 66h10v1h-10zM18 67h4v1h-4zM45 67h1v1h-1zM57 67h7v1h-7zM18 68h4v1h-4zM45 68h1v1h-1zM57 68h7v1h-7zM18 69h4v1h-4zM33 69h13v1h-13zM51 69h13v1h-13zM21 70h1v1h-1zM33 70h10v1h-10zM46 70h1v1h-1zM51 70h10v1h-10zM21 71h1v1h-1zM33 71h10v1h-10zM47 71h1v1h-1zM51 71h10v1h-10zM21 72h22v1h-22zM48 72h13v1h-13z"/><path fill="#184179" d="M55 13h1v1h-1zM53 14h1v1h-1zM55 14h2v1h-2zM50 16h1v1h-1zM58 16h1v1h-1zM58 17h2v1h-2zM61 19h1v1h-1zM61 20h2v1h-2zM47 22h1v1h-1zM62 26h1v1h-1zM17 32h1v1h-1zM4 37h2v1h-2zM5 38h1v1h-1zM7 49h2v1h-2zM8 50h1v1h-1zM10 55h2v1h-2zM11 56h1v1h-1zM13 58h2v1h-2zM70 58h2v1h-2zM14 59h1v1h-1zM70 59h1v1h-1zM16 64h2v1h-2zM67 64h2v1h-2zM17 65h1v1h-1zM67 65h1v1h-1zM64 67h2v1h-2zM64 68h1v1h-1zM19 70h2v1h-2zM43 70h2v1h-2zM61 70h2v1h-2zM20 71h1v1h-1zM43 71h1v1h-1zM61 71h1v1h-1z"/><path fill="#1b4b7a" d="M51 16h4v1h-4zM50 18h1v1h-1zM56 18h1v1h-1zM57 20h1v1h-1zM58 21h1v1h-1zM48 22h1v1h-1zM59 25h1v1h-1zM61 27h1v1h-1zM62 28h1v1h-1zM63 29h1v1h-1zM64 30h1v1h-1zM64 31h1v1h-1zM15 32h1v1h-1zM64 32h1v1h-1zM11 33h1v1h-1zM17 33h1v1h-1zM64 33h1v1h-1zM11 34h1v1h-1zM64 34h1v1h-1zM11 35h1v1h-1zM64 35h1v1h-1zM11 36h1v1h-1zM64 36h1v1h-1zM11 37h1v1h-1zM64 37h1v1h-1zM11 38h1v1h-1zM64 38h1v1h-1zM11 39h1v1h-1zM64 39h1v1h-1zM11 40h1v1h-1zM64 40h1v1h-1zM11 41h1v1h-1zM64 41h1v1h-1zM11 42h1v1h-1zM64 42h1v1h-1zM12 43h1v1h-1zM65 43h1v1h-1zM66 44h1v1h-1zM14 45h1v1h-1zM67 45h1v1h-1zM14 46h1v1h-1zM67 46h1v1h-1zM14 47h1v1h-1zM67 47h1v1h-1zM14 48h1v1h-1zM67 48h1v1h-1zM14 49h1v1h-1zM68 49h1v1h-1zM14 50h1v1h-1zM69 50h1v1h-1zM14 51h1v1h-1zM70 51h1v1h-1zM14 52h1v1h-1zM70 52h1v1h-1zM14 53h1v1h-1zM70 53h1v1h-1zM14 54h1v1h-1zM70 54h1v1h-1zM15 55h1v1h-1zM69 55h1v1h-1zM68 56h1v1h-1zM17 57h1v1h-1zM67 57h1v1h-1zM18 58h1v1h-1zM67 58h1v1h-1zM19 59h1v1h-1zM67 59h1v1h-1zM20 60h1v1h-1zM67 60h1v1h-1zM21 61h1v1h-1zM66 61h1v1h-1zM22 62h1v1h-1zM65 62h1v1h-1zM23 63h1v1h-1zM64 63h1v1h-1zM23 64h1v1h-1zM45 64h1v1h-1zM57 64h7v1h-7zM23 65h1v1h-1zM44 65h1v1h-1zM46 65h1v1h-1zM56 65h1v1h-1zM23 66h1v1h-1zM43 66h1v1h-1zM47 66h1v1h-1zM55 66h1v1h-1zM23 67h1v1h-1zM33 67h10v1h-10zM47 67h1v1h-1zM51 67h4v1h-4zM23 68h1v1h-1zM32 68h1v1h-1zM47 68h1v1h-1zM50 68h1v1h-1zM23 69h1v1h-1zM31 69h1v1h-1zM47 69h1v1h-1zM49 69h1v1h-1zM24 70h7v1h-7zM48 70h1v1h-1z"/><path fill="#1b497a" d="M55 16h1v1h-1zM56 17h1v1h-1zM58 20h1v1h-1zM64 29h1v1h-1zM14 32h1v1h-1zM11 43h1v1h-1zM67 44h1v1h-1zM70 50h1v1h-1zM14 55h1v1h-1zM70 55h1v1h-1zM17 58h1v1h-1zM20 61h1v1h-1zM67 61h1v1h-1zM64 64h1v1h-1zM43 67h1v1h-1zM55 67h1v1h-1zM23 70h1v1h-1zM31 70h1v1h-1zM49 70h1v1h-1z"/><path fill="#1a477a" d="M56 16h1v1h-1zM50 17h1v1h-1zM57 19h2v1h-2zM59 20h1v1h-1zM49 21h1v1h-1zM59 21h1v1h-1zM59 22h1v1h-1zM60 26h1v1h-1zM62 27h1v1h-1zM63 28h2v1h-2zM65 29h1v1h-1zM65 30h1v1h-1zM65 31h1v1h-1zM13 32h1v1h-1zM16 32h1v1h-1zM65 32h1v1h-1zM10 33h1v1h-1zM65 33h1v1h-1zM10 34h1v1h-1zM65 34h1v1h-1zM10 35h1v1h-1zM65 35h1v1h-1zM10 36h1v1h-1zM65 36h1v1h-1zM10 37h1v1h-1zM65 37h1v1h-1zM10 38h1v1h-1zM65 38h1v1h-1zM10 39h1v1h-1zM65 39h1v1h-1zM10 40h1v1h-1zM65 40h1v1h-1zM10 41h1v1h-1zM65 41h1v1h-1zM10 42h1v1h-1zM65 42h1v1h-1zM10 43h1v1h-1zM66 43h2v1h-2zM11 44h2v1h-2zM68 44h1v1h-1zM13 45h1v1h-1zM68 45h1v1h-1zM13 46h1v1h-1zM68 46h1v1h-1zM13 47h1v1h-1zM68 47h1v1h-1zM13 48h1v1h-1zM68 48h1v1h-1zM13 49h1v1h-1zM69 49h2v1h-2zM13 50h1v1h-1zM71 50h1v1h-1zM13 51h1v1h-1zM71 51h1v1h-1zM13 52h1v1h-1zM71 52h1v1h-1zM13 53h1v1h-1zM71 53h1v1h-1zM13 54h1v1h-1zM71 54h1v1h-1zM13 55h1v1h-1zM71 55h1v1h-1zM14 56h2v1h-2zM69 56h2v1h-2zM16 57h1v1h-1zM68 57h1v1h-1zM16 58h1v1h-1zM68 58h1v1h-1zM17 59h2v1h-2zM68 59h1v1h-1zM19 60h1v1h-1zM68 60h1v1h-1zM19 61h1v1h-1zM68 61h1v1h-1zM20 62h2v1h-2zM66 62h2v1h-2zM22 63h1v1h-1zM65 63h1v1h-1zM22 64h1v1h-1zM65 64h1v1h-1zM22 65h1v1h-1zM45 65h1v1h-1zM57 65h8v1h-8zM22 66h1v1h-1zM44 66h1v1h-1zM46 66h1v1h-1zM56 66h1v1h-1zM22 67h1v1h-1zM44 67h1v1h-1zM46 67h1v1h-1zM56 67h1v1h-1zM22 68h1v1h-1zM33 68h11v1h-11zM46 68h1v1h-1zM51 68h5v1h-5zM22 69h1v1h-1zM32 69h1v1h-1zM46 69h1v1h-1zM50 69h1v1h-1zM22 70h1v1h-1zM32 70h1v1h-1zM47 70h1v1h-1zM50 70h1v1h-1zM23 71h9v1h-9zM48 71h2v1h-2z"/><path fill="#1f557b" d="M51 17h4v1h-4zM55 18h1v1h-1zM50 20h1v1h-1zM56 20h1v1h-1zM57 22h1v1h-1zM59 26h1v1h-1zM60 28h1v1h-1zM61 29h1v1h-1zM62 30h1v1h-1zM62 31h1v1h-1zM62 32h1v1h-1zM13 33h1v1h-1zM16 33h1v1h-1zM62 33h1v1h-1zM13 34h1v1h-1zM18 34h1v1h-1zM62 34h1v1h-1zM62 35h1v1h-1zM62 36h1v1h-1zM62 37h1v1h-1zM62 38h1v1h-1zM62 39h1v1h-1zM62 40h1v1h-1zM62 41h1v1h-1zM62 42h1v1h-1zM63 43h1v1h-1zM64 44h1v1h-1zM65 45h1v1h-1zM65 46h1v1h-1zM65 47h1v1h-1zM65 48h1v1h-1zM66 49h1v1h-1zM67 50h1v1h-1zM68 51h1v1h-1zM68 52h1v1h-1zM68 53h1v1h-1zM68 54h1v1h-1zM67 55h1v1h-1zM20 56h2v1h-2zM66 56h1v1h-1zM65 57h1v1h-1zM64 58h1v1h-1zM22 59h1v1h-1zM63 59h1v1h-1zM22 60h1v1h-1zM62 60h1v1h-1zM23 61h1v1h-1zM61 61h1v1h-1zM24 62h1v1h-1zM54 62h7v1h-7zM25 63h1v1h-1zM44 63h1v1h-1zM46 63h1v1h-1zM53 63h1v1h-1zM26 64h1v1h-1zM43 64h1v1h-1zM47 64h1v1h-1zM52 64h1v1h-1zM27 65h16v1h-16zM48 65h4v1h-4z"/><path fill="#1d4f7a" d="M55 17h1v1h-1zM47 23h1v1h-1zM58 23h1v1h-1zM20 58h1v1h-1zM64 61h1v1h-1zM55 64h1v1h-1zM31 67h1v1h-1zM49 67h1v1h-1z"/><path fill="#215c7c" d="M51 18h4v1h-4zM55 20h1v1h-1zM57 24h1v1h-1zM47 25h1v1h-1zM59 27h1v1h-1zM46 28h1v1h-1zM46 29h1v1h-1zM60 30h1v1h-1zM60 31h1v1h-1zM44 32h1v1h-1zM60 32h1v1h-1zM15 33h1v1h-1zM60 33h1v1h-1zM16 34h1v1h-1zM20 34h1v1h-1zM43 34h1v1h-1zM60 34h1v1h-1zM22 35h1v1h-1zM60 35h1v1h-1zM24 36h1v1h-1zM42 36h1v1h-1zM60 36h1v1h-1zM27 37h1v1h-1zM60 37h1v1h-1zM38 38h1v1h-1zM60 38h1v1h-1zM60 39h1v1h-1zM60 40h1v1h-1zM60 41h1v1h-1zM60 42h1v1h-1zM61 43h1v1h-1zM62 44h1v1h-1zM63 45h1v1h-1zM63 46h1v1h-1zM63 47h1v1h-1zM16 48h1v1h-1zM63 48h1v1h-1zM16 49h1v1h-1zM16 50h1v1h-1zM16 51h1v1h-1zM66 51h1v1h-1zM66 52h1v1h-1zM66 53h1v1h-1zM21 54h1v1h-1zM66 54h1v1h-1zM65 55h1v1h-1zM22 56h1v1h-1zM64 56h1v1h-1zM63 57h1v1h-1zM62 58h1v1h-1zM61 59h1v1h-1zM24 60h1v1h-1zM54 60h7v1h-7zM25 61h1v1h-1zM53 61h1v1h-1zM26 62h1v1h-1zM44 62h1v1h-1zM52 62h1v1h-1zM27 63h16v1h-16zM48 63h4v1h-4z"/><path fill="#1d517b" d="M50 19h1v1h-1zM56 19h1v1h-1zM57 21h1v1h-1zM58 24h1v1h-1zM60 27h1v1h-1zM61 28h1v1h-1zM62 29h1v1h-1zM63 30h1v1h-1zM63 31h1v1h-1zM63 32h1v1h-1zM12 33h1v1h-1zM63 33h1v1h-1zM12 34h1v1h-1zM19 34h1v1h-1zM21 34h1v1h-1zM63 34h1v1h-1zM12 35h1v1h-1zM23 35h1v1h-1zM63 35h1v1h-1zM12 36h1v1h-1zM25 36h1v1h-1zM37 36h1v1h-1zM63 36h1v1h-1zM12 37h1v1h-1zM63 37h1v1h-1zM12 38h1v1h-1zM35 38h1v1h-1zM63 38h1v1h-1zM12 39h1v1h-1zM63 39h1v1h-1zM12 40h1v1h-1zM63 40h1v1h-1zM12 41h1v1h-1zM63 41h1v1h-1zM12 42h1v1h-1zM63 42h1v1h-1zM64 43h1v1h-1zM65 44h1v1h-1zM15 45h1v1h-1zM66 45h1v1h-1zM15 46h1v1h-1zM66 46h1v1h-1zM15 47h1v1h-1zM66 47h1v1h-1zM15 48h1v1h-1zM66 48h1v1h-1zM15 49h1v1h-1zM67 49h1v1h-1zM15 50h1v1h-1zM68 50h1v1h-1zM15 51h1v1h-1zM69 51h1v1h-1zM15 52h1v1h-1zM69 52h1v1h-1zM15 53h1v1h-1zM69 53h1v1h-1zM15 54h1v1h-1zM69 54h1v1h-1zM68 55h1v1h-1zM67 56h1v1h-1zM18 57h4v1h-4zM66 57h1v1h-1zM21 58h1v1h-1zM66 58h1v1h-1zM21 59h1v1h-1zM65 59h2v1h-2zM21 60h1v1h-1zM63 60h4v1h-4zM22 61h1v1h-1zM63 61h1v1h-1zM23 62h1v1h-1zM62 62h2v1h-2zM24 63h1v1h-1zM45 63h1v1h-1zM54 63h10v1h-10zM24 64h1v1h-1zM44 64h1v1h-1zM46 64h1v1h-1zM54 64h1v1h-1zM24 65h2v1h-2zM43 65h1v1h-1zM47 65h1v1h-1zM53 65h2v1h-2zM24 66h19v1h-19zM48 66h7v1h-7zM24 67h7v1h-7zM48 67h1v1h-1zM24 68h7v1h-7zM48 68h1v1h-1zM24 69h7v1h-7zM48 69h1v1h-1z"/><path fill="#23607c" d="M51 19h4v1h-4zM55 21h1v1h-1zM48 23h1v1h-1zM58 26h1v1h-1zM15 34h1v1h-1zM19 35h1v1h-1zM14 36h1v1h-1zM14 37h1v1h-1zM14 38h1v1h-1zM14 39h1v1h-1zM59 39h1v1h-1zM14 40h1v1h-1zM59 40h1v1h-1zM14 41h1v1h-1zM59 41h1v1h-1zM14 42h1v1h-1zM59 42h1v1h-1zM15 43h1v1h-1zM60 43h1v1h-1zM61 44h1v1h-1zM17 45h1v1h-1zM62 45h1v1h-1zM17 54h1v1h-1zM20 54h1v1h-1zM65 54h1v1h-1zM18 55h1v1h-1zM22 55h1v1h-1zM64 55h1v1h-1zM63 56h1v1h-1zM23 57h1v1h-1zM62 57h1v1h-1zM61 58h1v1h-1zM24 59h1v1h-1zM54 59h7v1h-7zM25 60h1v1h-1zM53 60h1v1h-1zM26 61h1v1h-1zM45 61h1v1h-1zM52 61h1v1h-1zM27 62h4v1h-4zM43 62h1v1h-1zM48 62h4v1h-4z"/><path fill="#20597b" d="M55 19h1v1h-1zM50 21h1v1h-1zM56 21h1v1h-1zM57 23h1v1h-1zM58 25h1v1h-1zM60 29h1v1h-1zM61 30h1v1h-1zM61 31h1v1h-1zM61 32h1v1h-1zM14 33h1v1h-1zM61 33h1v1h-1zM17 34h1v1h-1zM61 34h1v1h-1zM61 35h1v1h-1zM13 36h1v1h-1zM61 36h1v1h-1zM13 37h1v1h-1zM61 37h1v1h-1zM13 38h1v1h-1zM61 38h1v1h-1zM13 39h1v1h-1zM61 39h1v1h-1zM13 40h1v1h-1zM61 40h1v1h-1zM13 41h1v1h-1zM61 41h1v1h-1zM13 42h1v1h-1zM61 42h1v1h-1zM62 43h1v1h-1zM15 44h1v1h-1zM63 44h1v1h-1zM16 45h1v1h-1zM64 45h1v1h-1zM64 46h1v1h-1zM64 47h1v1h-1zM64 48h1v1h-1zM66 50h1v1h-1zM67 51h1v1h-1zM67 52h1v1h-1zM67 53h1v1h-1zM16 54h1v1h-1zM67 54h1v1h-1zM21 55h1v1h-1zM66 55h1v1h-1zM18 56h1v1h-1zM65 56h1v1h-1zM22 57h1v1h-1zM64 57h1v1h-1zM63 58h1v1h-1zM62 59h1v1h-1zM23 60h1v1h-1zM61 60h1v1h-1zM24 61h1v1h-1zM54 61h7v1h-7zM25 62h1v1h-1zM45 62h1v1h-1zM53 62h1v1h-1zM26 63h1v1h-1zM43 63h1v1h-1zM47 63h1v1h-1zM52 63h1v1h-1zM27 64h16v1h-16zM48 64h4v1h-4z"/><path fill="#194579" d="M59 19h1v1h-1zM59 23h1v1h-1zM61 26h1v1h-1zM65 28h1v1h-1zM68 43h1v1h-1zM10 44h1v1h-1zM71 49h1v1h-1zM13 56h1v1h-1zM71 56h1v1h-1zM16 59h1v1h-1zM19 62h1v1h-1zM68 62h1v1h-1zM65 65h1v1h-1zM44 68h1v1h-1zM56 68h1v1h-1zM22 71h1v1h-1zM32 71h1v1h-1zM50 71h1v1h-1z"/><path fill="#24647c" d="M51 20h4v1h-4zM57 25h1v1h-1zM59 30h1v1h-1zM59 31h1v1h-1zM59 32h1v1h-1zM59 33h1v1h-1zM59 34h1v1h-1zM15 35h4v1h-4zM59 35h1v1h-1zM59 36h1v1h-1zM59 37h1v1h-1zM58 39h1v1h-1zM58 40h1v1h-1zM58 41h1v1h-1zM58 42h1v1h-1zM59 43h1v1h-1zM60 44h1v1h-1zM61 45h1v1h-1zM17 46h1v1h-1zM62 47h1v1h-1zM62 48h1v1h-1zM63 49h1v1h-1zM65 51h1v1h-1zM65 52h1v1h-1zM17 53h1v1h-1zM20 53h1v1h-1zM19 54h1v1h-1zM22 54h1v1h-1zM64 54h1v1h-1zM63 55h1v1h-1zM23 56h1v1h-1zM61 57h1v1h-1zM24 58h1v1h-1zM54 58h7v1h-7zM25 59h1v1h-1zM53 59h1v1h-1zM26 60h1v1h-1zM52 60h1v1h-1zM27 61h4v1h-4zM44 61h1v1h-1zM47 61h5v1h-5zM32 62h11v1h-11z"/><path fill="#25677d" d="M51 21h4v1h-4zM50 22h1v1h-1zM58 27h1v1h-1zM21 35h1v1h-1zM15 36h1v1h-1zM23 36h1v1h-1zM15 37h1v1h-1zM15 38h1v1h-1zM58 38h1v1h-1zM15 39h1v1h-1zM57 39h1v1h-1zM15 40h1v1h-1zM57 40h1v1h-1zM15 41h1v1h-1zM57 41h1v1h-1zM15 42h1v1h-1zM57 42h1v1h-1zM58 43h1v1h-1zM59 44h1v1h-1zM18 45h1v1h-1zM60 45h1v1h-1zM61 46h1v1h-1zM17 48h1v1h-1zM17 49h1v1h-1zM17 50h1v1h-1zM17 51h1v1h-1zM51 51h4v1h-4zM20 52h2v1h-2zM51 52h4v1h-4zM19 53h1v1h-1zM21 53h1v1h-1zM51 53h4v1h-4zM64 53h1v1h-1zM18 54h1v1h-1zM51 54h4v1h-4zM63 54h1v1h-1zM23 55h1v1h-1zM54 55h1v1h-1zM54 56h1v1h-1zM24 57h1v1h-1zM46 57h1v1h-1zM54 57h7v1h-7zM25 58h2v1h-2zM46 58h1v1h-1zM53 58h1v1h-1zM26 59h1v1h-1zM52 59h1v1h-1zM27 60h4v1h-4zM45 60h7v1h-7zM31 61h1v1h-1zM43 61h1v1h-1z"/><path fill="#215a7b" d="M49 22h1v1h-1zM14 34h1v1h-1zM14 43h1v1h-1zM16 46h1v1h-1zM16 47h1v1h-1zM65 49h1v1h-1zM16 52h1v1h-1zM16 53h1v1h-1zM17 55h1v1h-1zM20 55h1v1h-1zM23 59h1v1h-1zM46 62h1v1h-1z"/><path fill="#2a727e" d="M51 22h4v1h-4zM48 24h1v1h-1zM56 25h1v1h-1zM47 26h1v1h-1zM57 27h1v1h-1zM57 28h1v1h-1zM57 29h1v1h-1zM46 30h1v1h-1zM57 30h1v1h-1zM57 31h1v1h-1zM57 32h1v1h-1zM57 33h1v1h-1zM57 34h1v1h-1zM20 35h1v1h-1zM57 35h1v1h-1zM18 36h1v1h-1zM21 36h2v1h-2zM57 36h1v1h-1zM18 37h2v1h-2zM36 37h2v1h-2zM18 38h1v1h-1zM36 38h2v1h-2zM39 38h2v1h-2zM18 39h1v1h-1zM24 39h1v1h-1zM56 39h1v1h-1zM18 40h1v1h-1zM18 41h1v1h-1zM18 42h1v1h-1zM19 44h1v1h-1zM57 45h1v1h-1zM58 46h1v1h-1zM59 47h1v1h-1zM18 48h3v1h-3zM54 48h1v1h-1zM60 48h1v1h-1zM18 49h1v1h-1zM61 49h1v1h-1zM18 50h1v1h-1zM21 50h1v1h-1zM62 50h1v1h-1zM18 51h1v1h-1zM21 51h1v1h-1zM63 51h1v1h-1zM22 52h1v1h-1zM22 53h1v1h-1zM62 53h1v1h-1zM24 54h1v1h-1zM48 54h1v1h-1zM57 54h1v1h-1zM48 55h1v1h-1zM46 56h1v1h-1zM48 56h1v1h-1zM26 57h1v1h-1zM45 57h1v1h-1zM48 57h4v1h-4zM27 58h3v1h-3zM44 58h2v1h-2zM31 59h1v1h-1zM33 60h10v1h-10z"/><path fill="#26687d" d="M55 22h1v1h-1zM58 28h1v1h-1zM58 37h1v1h-1zM61 47h1v1h-1zM64 52h1v1h-1zM53 55h1v1h-1zM55 56h1v1h-1zM32 61h1v1h-1z"/><path fill="#225e7c" d="M56 22h1v1h-1zM59 28h1v1h-1zM14 35h1v1h-1zM16 44h1v1h-1zM64 49h1v1h-1zM65 50h1v1h-1zM19 55h1v1h-1zM23 58h1v1h-1zM47 62h1v1h-1z"/><path fill="#1c4d7a" d="M58 22h1v1h-1zM13 44h1v1h-1zM16 56h1v1h-1zM19 58h1v1h-1zM20 59h1v1h-1zM65 61h1v1h-1zM64 62h1v1h-1zM56 64h1v1h-1zM55 65h1v1h-1zM32 67h1v1h-1zM50 67h1v1h-1zM31 68h1v1h-1zM49 68h1v1h-1z"/><path fill="#276a7d" d="M49 23h1v1h-1zM58 29h1v1h-1zM17 43h1v1h-1zM52 55h1v1h-1zM55 55h1v1h-1zM62 55h1v1h-1zM53 56h1v1h-1zM56 56h1v1h-1zM61 56h1v1h-1z"/><path fill="#2b737e" d="M50 23h1v1h-1zM56 44h1v1h-1zM52 49h1v1h-1zM55 49h1v1h-1zM50 50h1v1h-1zM49 52h1v1h-1zM56 52h1v1h-1zM25 55h1v1h-1zM59 55h1v1h-1zM43 59h1v1h-1z"/><path fill="#2e7b7f" d="M51 23h4v1h-4zM45 31h1v1h-1zM56 36h1v1h-1zM22 37h1v1h-1zM25 39h1v1h-1zM55 39h1v1h-1zM54 42h1v1h-1zM54 43h1v1h-1zM54 44h1v1h-1zM54 45h1v1h-1zM53 46h1v1h-1zM20 47h1v1h-1zM52 47h1v1h-1zM51 48h1v1h-1zM57 48h1v1h-1zM21 49h1v1h-1zM57 49h2v1h-2zM57 50h1v1h-1zM22 51h1v1h-1zM48 51h1v1h-1zM57 51h1v1h-1zM58 52h1v1h-1zM61 52h1v1h-1zM23 53h1v1h-1zM59 53h1v1h-1zM60 54h1v1h-1zM46 55h1v1h-1zM26 56h1v1h-1zM45 56h1v1h-1zM27 57h2v1h-2zM44 57h1v1h-1zM30 58h4v1h-4zM37 58h7v1h-7z"/><path fill="#29707e" d="M55 23h1v1h-1zM56 40h1v1h-1zM56 43h1v1h-1zM19 47h1v1h-1zM19 49h1v1h-1zM53 49h1v1h-1zM55 50h1v1h-1zM49 53h1v1h-1zM56 53h1v1h-1zM58 55h1v1h-1zM49 56h1v1h-1zM47 58h1v1h-1zM44 59h1v1h-1z"/><path fill="#25657d" d="M56 23h1v1h-1zM16 43h1v1h-1zM17 44h1v1h-1zM17 47h1v1h-1zM64 50h1v1h-1zM17 52h1v1h-1zM62 56h1v1h-1z"/><path fill="#32827b" d="M49 24h2v1h-2zM52 24h3v1h-3zM55 26h1v1h-1zM47 27h1v1h-1zM47 28h1v1h-1zM47 29h1v1h-1zM47 30h1v1h-1zM20 36h1v1h-1zM55 36h1v1h-1zM21 37h1v1h-1zM23 37h1v1h-1zM22 38h3v1h-3zM23 39h1v1h-1zM34 39h2v1h-2zM54 39h1v1h-1zM53 42h1v1h-1zM20 44h1v1h-1zM52 44h1v1h-1zM20 45h1v1h-1zM20 46h1v1h-1zM21 47h1v1h-1zM51 47h1v1h-1zM21 48h1v1h-1zM50 48h1v1h-1zM22 49h1v1h-1zM22 50h1v1h-1zM23 51h1v1h-1zM47 51h1v1h-1zM60 51h1v1h-1zM23 52h1v1h-1zM24 53h1v1h-1zM45 54h2v1h-2zM26 55h1v1h-1zM45 55h1v1h-1zM27 56h2v1h-2zM43 56h2v1h-2zM29 57h3v1h-3zM38 57h6v1h-6zM34 58h3v1h-3z"/><path fill="#358673" d="M51 24h1v1h-1zM54 36h1v1h-1zM24 40h1v1h-1zM52 42h1v1h-1zM21 46h1v1h-1zM50 47h1v1h-1zM22 48h1v1h-1zM49 48h1v1h-1zM23 50h1v1h-1zM46 51h1v1h-1zM24 52h1v1h-1zM43 55h2v1h-2zM29 56h1v1h-1zM38 56h5v1h-5zM32 57h6v1h-6z"/><path fill="#2d787f" d="M55 24h1v1h-1zM56 26h1v1h-1zM56 37h1v1h-1zM19 39h1v1h-1zM19 40h1v1h-1zM19 41h1v1h-1zM19 42h1v1h-1zM55 45h1v1h-1zM54 46h1v1h-1zM53 47h1v1h-1zM57 47h1v1h-1zM52 48h1v1h-1zM56 48h1v1h-1zM58 48h1v1h-1zM60 49h1v1h-1zM61 50h1v1h-1zM62 51h1v1h-1zM48 52h1v1h-1zM57 52h1v1h-1zM58 53h1v1h-1zM61 53h1v1h-1zM25 54h1v1h-1zM47 54h1v1h-1zM59 54h1v1h-1zM33 59h4v1h-4z"/><path fill="#276b7d" d="M56 24h1v1h-1zM57 26h1v1h-1zM58 30h1v1h-1zM58 31h1v1h-1zM58 32h1v1h-1zM58 33h1v1h-1zM58 34h1v1h-1zM58 35h1v1h-1zM16 36h1v1h-1zM58 36h1v1h-1zM16 37h1v1h-1zM16 38h1v1h-1zM57 38h1v1h-1zM16 39h1v1h-1zM16 40h1v1h-1zM16 41h1v1h-1zM16 42h1v1h-1zM57 43h1v1h-1zM18 44h1v1h-1zM58 44h1v1h-1zM59 45h1v1h-1zM18 46h1v1h-1zM60 46h1v1h-1zM61 48h1v1h-1zM62 49h1v1h-1zM53 50h2v1h-2zM63 50h1v1h-1zM20 51h1v1h-1zM64 51h1v1h-1zM19 52h1v1h-1zM18 53h1v1h-1zM50 53h1v1h-1zM55 53h1v1h-1zM63 53h1v1h-1zM23 54h1v1h-1zM50 54h1v1h-1zM55 54h1v1h-1zM51 55h1v1h-1zM56 55h1v1h-1zM24 56h1v1h-1zM52 56h1v1h-1zM57 56h2v1h-2zM25 57h1v1h-1zM53 57h1v1h-1zM52 58h1v1h-1zM27 59h2v1h-2zM47 59h5v1h-5zM31 60h1v1h-1zM44 60h1v1h-1zM33 61h10v1h-10z"/><path fill="#38896c" d="M48 25h1v1h-1zM51 25h1v1h-1zM52 27h3v1h-3zM48 28h1v1h-1zM52 28h3v1h-3zM48 29h2v1h-2zM52 29h3v1h-3zM48 30h2v1h-2zM52 30h3v1h-3zM47 31h3v1h-3zM52 31h3v1h-3zM48 32h2v1h-2zM52 32h3v1h-3zM48 33h2v1h-2zM52 33h3v1h-3zM49 34h1v1h-1zM52 34h1v1h-1zM49 35h1v1h-1zM49 36h1v1h-1zM20 37h1v1h-1zM49 37h3v1h-3zM21 38h1v1h-1zM25 38h1v1h-1zM48 38h4v1h-4zM22 39h1v1h-1zM26 39h1v1h-1zM48 39h4v1h-4zM20 40h1v1h-1zM23 40h1v1h-1zM25 40h1v1h-1zM48 40h4v1h-4zM20 41h1v1h-1zM24 41h3v1h-3zM48 41h4v1h-4zM20 42h1v1h-1zM47 42h5v1h-5zM20 43h3v1h-3zM46 43h6v1h-6zM21 44h3v1h-3zM46 44h2v1h-2zM50 44h2v1h-2zM21 45h3v1h-3zM45 45h3v1h-3zM50 45h2v1h-2zM22 46h2v1h-2zM45 46h7v1h-7zM22 47h2v1h-2zM45 47h5v1h-5zM23 48h1v1h-1zM45 48h4v1h-4zM23 49h1v1h-1zM45 49h1v1h-1zM24 50h1v1h-1zM45 50h1v1h-1zM24 51h1v1h-1zM45 51h1v1h-1zM25 52h1v1h-1zM41 52h1v1h-1zM25 53h1v1h-1zM40 53h2v1h-2zM43 53h1v1h-1zM26 54h1v1h-1zM41 54h4v1h-4zM27 55h2v1h-2zM38 55h5v1h-5zM30 56h2v1h-2zM36 56h2v1h-2z"/><path fill="#3e915c" d="M49 25h2v1h-2zM48 26h1v1h-1zM51 26h1v1h-1zM48 27h1v1h-1zM51 27h1v1h-1zM49 28h3v1h-3zM50 29h2v1h-2zM50 30h2v1h-2zM51 31h1v1h-1zM45 32h3v1h-3zM51 32h1v1h-1zM47 33h1v1h-1zM50 33h2v1h-2zM48 34h1v1h-1zM50 34h2v1h-2zM48 35h1v1h-1zM50 35h2v1h-2zM48 36h1v1h-1zM50 36h2v1h-2zM24 37h3v1h-3zM20 38h1v1h-1zM26 38h1v1h-1zM41 38h1v1h-1zM20 39h1v1h-1zM36 39h1v1h-1zM21 40h2v1h-2zM26 40h1v1h-1zM21 41h3v1h-3zM47 41h1v1h-1zM21 42h2v1h-2zM46 42h1v1h-1zM24 43h1v1h-1zM45 43h1v1h-1zM24 44h1v1h-1zM45 44h1v1h-1zM48 44h2v1h-2zM24 45h1v1h-1zM44 45h1v1h-1zM48 45h2v1h-2zM25 46h1v1h-1zM44 46h1v1h-1zM25 47h1v1h-1zM44 47h1v1h-1zM25 48h1v1h-1zM43 48h2v1h-2zM25 49h1v1h-1zM25 50h1v1h-1zM26 51h1v1h-1zM41 51h1v1h-1zM26 52h1v1h-1zM40 52h1v1h-1zM27 53h1v1h-1zM39 53h1v1h-1zM27 54h3v1h-3zM37 54h3v1h-3zM30 55h1v1h-1zM36 55h1v1h-1z"/><path fill="#348576" d="M52 25h3v1h-3zM55 27h1v1h-1zM55 28h1v1h-1zM55 29h1v1h-1zM55 30h1v1h-1zM55 31h1v1h-1zM55 32h1v1h-1zM55 33h1v1h-1zM54 37h1v1h-1zM53 39h1v1h-1zM45 53h1v1h-1z"/><path fill="#2f7e7f" d="M55 25h1v1h-1zM56 27h1v1h-1zM56 28h1v1h-1zM56 29h1v1h-1zM56 30h1v1h-1zM56 31h1v1h-1zM56 32h1v1h-1zM56 33h1v1h-1zM56 34h1v1h-1zM55 38h1v1h-1zM54 41h1v1h-1zM53 45h1v1h-1zM52 46h1v1h-1zM49 49h1v1h-1zM48 50h1v1h-1zM59 50h2v1h-2zM58 51h1v1h-1zM61 51h1v1h-1zM59 52h1v1h-1zM60 53h1v1h-1z"/><path fill="#44984c" d="M49 26h2v1h-2zM49 27h1v1h-1zM46 33h1v1h-1zM47 34h1v1h-1zM47 35h1v1h-1zM47 36h1v1h-1zM47 37h1v1h-1zM27 38h1v1h-1zM47 38h1v1h-1zM21 39h1v1h-1zM33 39h1v1h-1zM37 39h1v1h-1zM47 39h1v1h-1zM27 40h1v1h-1zM27 41h1v1h-1zM46 41h1v1h-1zM23 42h4v1h-4zM25 43h2v1h-2zM44 43h1v1h-1zM25 44h2v1h-2zM44 44h1v1h-1zM25 45h1v1h-1zM43 45h1v1h-1zM43 46h1v1h-1zM43 47h1v1h-1zM26 49h1v1h-1zM42 49h1v1h-1zM26 50h1v1h-1zM41 50h2v1h-2zM27 51h1v1h-1zM40 51h1v1h-1zM42 51h1v1h-1zM28 52h1v1h-1zM39 52h1v1h-1zM28 53h2v1h-2zM38 53h1v1h-1zM30 54h1v1h-1zM36 54h1v1h-1zM32 55h3v1h-3z"/><path fill="#368771" d="M52 26h3v1h-3zM54 35h1v1h-1zM53 36h1v1h-1zM52 39h1v1h-1zM45 52h1v1h-1zM44 53h1v1h-1z"/><path fill="#5ba04b" d="M50 27h1v1h-1zM38 39h1v1h-1zM46 40h1v1h-1zM28 43h1v1h-1zM27 44h1v1h-1zM26 45h1v1h-1zM42 46h1v1h-1zM26 47h1v1h-1zM42 47h1v1h-1zM42 48h1v1h-1zM27 49h1v1h-1zM41 49h1v1h-1zM27 50h1v1h-1zM40 50h1v1h-1zM28 51h1v1h-1zM39 51h1v1h-1zM29 52h1v1h-1zM38 52h1v1h-1zM30 53h1v1h-1zM37 53h1v1h-1zM31 54h1v1h-1zM35 54h1v1h-1z"/><path fill="#23627c" d="M59 29h1v1h-1zM59 38h1v1h-1zM62 46h1v1h-1zM65 53h1v1h-1zM46 61h1v1h-1zM31 62h1v1h-1z"/><path fill="#3b8d63" d="M46 31h1v1h-1zM50 31h1v1h-1zM50 32h1v1h-1zM48 37h1v1h-1zM23 43h1v1h-1zM24 46h1v1h-1zM24 47h1v1h-1zM24 48h1v1h-1zM24 49h1v1h-1zM25 51h1v1h-1zM26 53h1v1h-1zM40 54h1v1h-1zM29 55h1v1h-1zM37 55h1v1h-1zM32 56h4v1h-4z"/><path fill="#419554" d="M44 33h1v1h-1zM47 40h1v1h-1zM27 52h1v1h-1zM31 55h1v1h-1zM35 55h1v1h-1z"/><path fill="#78a652" d="M45 33h1v1h-1zM46 34h1v1h-1zM42 37h1v1h-1zM31 38h1v1h-1zM32 39h1v1h-1zM28 41h1v1h-1zM45 41h1v1h-1zM28 42h1v1h-1zM44 42h1v1h-1zM29 43h1v1h-1zM28 44h2v1h-2zM43 44h1v1h-1zM27 45h1v1h-1zM42 45h1v1h-1zM26 46h1v1h-1zM27 47h1v1h-1zM26 48h1v1h-1zM41 48h1v1h-1zM28 50h1v1h-1zM29 51h1v1h-1zM38 51h1v1h-1zM30 52h1v1h-1zM37 52h1v1h-1zM31 53h1v1h-1zM36 53h1v1h-1zM32 54h3v1h-3z"/><path fill="#bfa664" d="M44 34h2v1h-2zM39 39h1v1h-1zM32 40h3v1h-3zM35 45h1v1h-1zM39 48h1v1h-1z"/><path fill="#37896d" d="M53 34h1v1h-1zM52 35h1v1h-1z"/><path fill="#37886e" d="M54 34h1v1h-1zM53 35h1v1h-1zM52 36h1v1h-1zM52 37h1v1h-1z"/><path fill="#338378" d="M55 34h1v1h-1zM54 38h1v1h-1zM53 40h1v1h-1zM47 49h1v1h-1zM46 52h1v1h-1z"/><path fill="#1f577b" d="M13 35h1v1h-1zM19 56h1v1h-1zM22 58h1v1h-1z"/><path fill="#82a954" d="M43 35h1v1h-1zM31 39h1v1h-1z"/><path fill="#fdfbfb" d="M44 35h1v1h-1zM44 36h1v1h-1zM43 37h2v1h-2zM42 38h3v1h-3zM42 39h2v1h-2zM38 40h5v1h-5zM32 41h10v1h-10zM33 42h5v1h-5zM33 43h4v1h-4zM36 46h1v1h-1zM35 47h3v1h-3zM36 48h2v1h-2z"/><path fill="#d3af8f" d="M45 35h1v1h-1zM45 37h1v1h-1zM43 41h1v1h-1zM39 42h2v1h-2zM37 43h1v1h-1zM36 45h1v1h-1zM35 46h1v1h-1zM38 46h1v1h-1zM34 48h1v1h-1zM35 49h2v1h-2z"/><path fill="#adb45c" d="M46 35h1v1h-1zM43 36h1v1h-1zM46 37h1v1h-1zM28 38h1v1h-1zM40 39h1v1h-1zM30 40h1v1h-1zM36 40h1v1h-1zM45 40h1v1h-1zM40 47h1v1h-1zM33 51h1v1h-1z"/><path fill="#328379" d="M55 35h1v1h-1zM53 41h1v1h-1zM47 50h1v1h-1z"/><path fill="#2f7d7f" d="M56 35h1v1h-1zM58 50h1v1h-1zM47 53h1v1h-1z"/><path fill="#296f7e" d="M17 36h1v1h-1zM19 36h1v1h-1zM17 37h1v1h-1zM57 37h1v1h-1zM17 38h1v1h-1zM17 39h1v1h-1zM17 40h1v1h-1zM17 41h1v1h-1zM56 41h1v1h-1zM17 42h1v1h-1zM56 42h1v1h-1zM18 43h1v1h-1zM57 44h1v1h-1zM19 45h1v1h-1zM58 45h1v1h-1zM19 46h1v1h-1zM59 46h1v1h-1zM18 47h1v1h-1zM60 47h1v1h-1zM20 49h1v1h-1zM54 49h1v1h-1zM19 50h1v1h-1zM51 50h1v1h-1zM19 51h1v1h-1zM50 51h1v1h-1zM55 51h1v1h-1zM18 52h1v1h-1zM63 52h1v1h-1zM49 54h1v1h-1zM56 54h1v1h-1zM62 54h1v1h-1zM24 55h1v1h-1zM49 55h1v1h-1zM57 55h1v1h-1zM61 55h1v1h-1zM25 56h1v1h-1zM50 56h2v1h-2zM60 56h1v1h-1zM52 57h1v1h-1zM48 58h4v1h-4zM30 59h1v1h-1zM45 59h1v1h-1zM32 60h1v1h-1zM43 60h1v1h-1z"/><path fill="#e1bfb0" d="M45 36h1v1h-1zM30 39h1v1h-1zM41 39h1v1h-1zM32 42h1v1h-1zM38 42h1v1h-1zM33 44h1v1h-1zM35 44h2v1h-2zM38 47h1v1h-1zM38 48h1v1h-1z"/><path fill="#a2b15a" d="M46 36h1v1h-1zM46 38h1v1h-1zM28 39h1v1h-1zM29 40h1v1h-1zM31 40h1v1h-1zM30 41h1v1h-1zM30 42h1v1h-1zM40 44h1v1h-1zM42 44h1v1h-1zM31 45h1v1h-1zM40 45h1v1h-1zM30 46h2v1h-2zM40 46h1v1h-1zM28 47h4v1h-4zM28 48h1v1h-1zM31 48h1v1h-1zM40 48h1v1h-1zM29 49h3v1h-3zM31 50h1v1h-1zM38 50h1v1h-1zM32 51h1v1h-1zM36 51h1v1h-1zM33 52h3v1h-3z"/><path fill="#358672" d="M53 37h1v1h-1zM52 40h1v1h-1zM52 41h1v1h-1zM46 49h1v1h-1zM46 50h1v1h-1z"/><path fill="#30817e" d="M55 37h1v1h-1zM54 40h1v1h-1zM53 44h1v1h-1zM52 45h1v1h-1zM48 49h1v1h-1zM59 51h1v1h-1zM47 52h1v1h-1zM60 52h1v1h-1z"/><path fill="#2b757e" d="M19 38h1v1h-1zM56 38h1v1h-1zM55 42h1v1h-1zM19 43h1v1h-1zM56 45h1v1h-1zM57 46h1v1h-1zM54 47h1v1h-1zM58 47h1v1h-1zM53 48h1v1h-1zM55 48h1v1h-1zM59 48h1v1h-1zM51 49h1v1h-1zM49 51h1v1h-1zM56 51h1v1h-1zM62 52h1v1h-1zM48 53h1v1h-1zM57 53h1v1h-1zM58 54h1v1h-1zM61 54h1v1h-1zM60 55h1v1h-1zM47 57h1v1h-1zM32 59h1v1h-1zM39 59h4v1h-4z"/><path fill="#c4a46f" d="M29 38h1v1h-1zM45 38h1v1h-1zM29 39h1v1h-1zM45 39h1v1h-1zM44 40h1v1h-1zM31 41h1v1h-1zM38 43h1v1h-1zM41 43h1v1h-1zM37 44h1v1h-1zM34 45h1v1h-1zM37 45h1v1h-1zM34 46h1v1h-1zM33 47h1v1h-1zM39 47h1v1h-1zM34 49h1v1h-1zM37 49h1v1h-1z"/><path fill="#eed8d4" d="M30 38h1v1h-1zM44 39h1v1h-1zM43 40h1v1h-1zM42 41h1v1h-1zM37 46h1v1h-1z"/><path fill="#368770" d="M52 38h1v1h-1z"/><path fill="#348575" d="M53 38h1v1h-1z"/><path fill="#8eac56" d="M27 39h1v1h-1zM46 39h1v1h-1zM28 40h1v1h-1zM35 40h1v1h-1zM29 41h1v1h-1zM29 42h1v1h-1zM43 43h1v1h-1zM30 44h1v1h-1zM41 44h1v1h-1zM28 45h3v1h-3zM41 45h1v1h-1zM27 46h3v1h-3zM41 46h1v1h-1zM41 47h1v1h-1zM27 48h1v1h-1zM28 49h1v1h-1zM40 49h1v1h-1zM29 50h2v1h-2zM39 50h1v1h-1zM30 51h2v1h-2zM37 51h1v1h-1zM31 52h2v1h-2zM36 52h1v1h-1zM32 53h2v1h-2zM35 53h1v1h-1z"/><path fill="#bcac62" d="M37 40h1v1h-1zM31 42h1v1h-1zM39 43h2v1h-2zM32 44h1v1h-1zM33 45h1v1h-1zM33 46h1v1h-1zM33 48h1v1h-1zM33 49h1v1h-1zM38 49h1v1h-1zM34 50h2v1h-2z"/><path fill="#2d7a7f" d="M55 40h1v1h-1zM50 49h1v1h-1zM59 49h1v1h-1zM49 50h1v1h-1z"/><path fill="#b7b75e" d="M44 41h1v1h-1zM43 42h1v1h-1zM31 43h1v1h-1zM42 43h1v1h-1zM31 44h1v1h-1zM38 44h2v1h-2zM32 45h1v1h-1zM38 45h2v1h-2zM32 46h1v1h-1zM39 46h1v1h-1zM32 47h1v1h-1zM29 48h2v1h-2zM32 48h1v1h-1zM32 49h1v1h-1zM39 49h1v1h-1zM32 50h1v1h-1zM36 50h2v1h-2zM34 51h2v1h-2z"/><path fill="#2c777f" d="M55 41h1v1h-1zM55 43h1v1h-1zM55 44h1v1h-1zM55 46h2v1h-2zM55 47h2v1h-2zM56 49h1v1h-1zM56 50h1v1h-1zM47 55h1v1h-1zM47 56h1v1h-1zM37 59h2v1h-2z"/><path fill="#4e9c47" d="M27 42h1v1h-1zM45 42h1v1h-1zM27 43h1v1h-1z"/><path fill="#d9b59d" d="M41 42h2v1h-2zM34 47h1v1h-1z"/><path fill="#1e537b" d="M13 43h1v1h-1zM14 44h1v1h-1zM16 55h1v1h-1zM17 56h1v1h-1zM65 58h1v1h-1zM64 59h1v1h-1zM62 61h1v1h-1zM61 62h1v1h-1zM25 64h1v1h-1zM53 64h1v1h-1zM26 65h1v1h-1zM52 65h1v1h-1z"/><path fill="#98af58" d="M30 43h1v1h-1zM34 53h1v1h-1z"/><path fill="#cba97e" d="M32 43h1v1h-1z"/><path fill="#338477" d="M52 43h1v1h-1z"/><path fill="#31817d" d="M53 43h1v1h-1z"/><path fill="#e8cbc2" d="M34 44h1v1h-1z"/><path fill="#f6eae9" d="M35 48h1v1h-1z"/><path fill="#409456" d="M43 49h1v1h-1zM43 50h1v1h-1zM43 51h1v1h-1z"/><path fill="#3c8e61" d="M44 49h1v1h-1zM44 50h1v1h-1zM44 51h1v1h-1zM43 52h1v1h-1z"/><path fill="#286d7d" d="M20 50h1v1h-1zM52 50h1v1h-1zM50 52h1v1h-1zM55 52h1v1h-1zM50 55h1v1h-1zM59 56h1v1h-1zM29 59h1v1h-1zM46 59h1v1h-1z"/><path fill="#bab160" d="M33 50h1v1h-1z"/><path fill="#3f925a" d="M42 52h1v1h-1z"/><path fill="#398b68" d="M44 52h1v1h-1z"/><path fill="#3a8c66" d="M42 53h1v1h-1z"/><path fill="#31827c" d="M46 53h1v1h-1z"/></g></g><g font-family="DejaVu Serif, serif" font-size="21.8" fill="#fff"><text x="92.4" y="45.3">HST/NICMOS</text><text x="92.4" y="69.2">September 2007</text><text x="528.4" y="45.3">HST/STIS</text><text x="528.4" y="69.2">January-February 2021</text></g><rect x="82.40" y="384.4" width="64.3" height="3.2" fill="#fff"/><text x="90.70" y="372.4" font-family="DejaVu Serif, serif" font-size="23.4" fill="#fff">0.5</text><text transform="translate(127.80 386.4) scale(1 1.55)" font-family="DejaVu Serif, serif" font-size="28" fill="#fff">″</text><text x="70.40" y="413.2" font-family="DejaVu Serif, serif" font-size="23" fill="#fff">78.0</text><text x="130.40" y="413.2" font-family="DejaVu Sans, sans-serif" font-size="23" fill="#fff">au</text><text x="453.30" y="350.6" font-family="DejaVu Serif, serif" font-weight="bold" font-size="24" fill="#fff" text-anchor="middle">N</text><text x="391.70" y="414.6" font-family="DejaVu Serif, serif" font-weight="bold" font-size="24" fill="#fff" text-anchor="middle">E</text><path d="M453.40 371V407.6H418.00" stroke="#fff" stroke-width="3.1" fill="none" stroke-linecap="butt" stroke-linejoin="miter"/><path d="M453.40 359.2L448.80 372.4L458.00 372.4Z" fill="#fff"/><path d="M405.20 407.6L418.80 403.0L418.80 412.2Z" fill="#fff"/><rect x="517.80" y="384.4" width="64.3" height="3.2" fill="#fff"/><text x="526.10" y="372.4" font-family="DejaVu Serif, serif" font-size="23.4" fill="#fff">0.5</text><text transform="translate(563.20 386.4) scale(1 1.55)" font-family="DejaVu Serif, serif" font-size="28" fill="#fff">″</text><text x="505.80" y="413.2" font-family="DejaVu Serif, serif" font-size="23" fill="#fff">78.0</text><text x="565.80" y="413.2" font-family="DejaVu Sans, sans-serif" font-size="23" fill="#fff">au</text><text x="888.70" y="350.6" font-family="DejaVu Serif, serif" font-weight="bold" font-size="24" fill="#fff" text-anchor="middle">N</text><text x="827.10" y="414.6" font-family="DejaVu Serif, serif" font-weight="bold" font-size="24" fill="#fff" text-anchor="middle">E</text><path d="M888.80 371V407.6H853.40" stroke="#fff" stroke-width="3.1" fill="none" stroke-linecap="butt" stroke-linejoin="miter"/><path d="M888.80 359.2L884.20 372.4L893.40 372.4Z" fill="#fff"/><path d="M840.60 407.6L854.20 403.0L854.20 412.2Z" fill="#fff"/><path d="M267.90 227.3V440" stroke="#d022e6" stroke-width="1.6" stroke-dasharray="4 1.8" fill="none" opacity="0.85"/><path d="M702.85 227.3V440" stroke="#d022e6" stroke-width="1.6" stroke-dasharray="4 1.8" fill="none" opacity="0.85"/><polygon points="267.80,210.90 270.27,218.50 278.26,218.50 271.80,223.20 274.27,230.80 267.80,226.10 261.33,230.80 263.80,223.20 257.34,218.50 265.33,218.50" fill="#ffff00" stroke="#000" stroke-width="0.9" stroke-linejoin="miter"/><polygon points="702.90,210.80 705.37,218.40 713.36,218.40 706.90,223.10 709.37,230.70 702.90,226.00 696.43,230.70 698.90,223.10 692.44,218.40 700.43,218.40" fill="#ffff00" stroke="#000" stroke-width="0.9" stroke-linejoin="miter"/><path d="M48.50 3.00V440.00H921.30V3.00Z" fill="none" stroke="#000" stroke-width="1.1"/><path d="M485.30 3.00V440.00" stroke="#081a5c" stroke-opacity="0.7" stroke-width="1"/><path d="M85.30 440.00v7M85.30 3.00v-7M146.10 440.00v7M146.10 3.00v-7M206.90 440.00v7M206.90 3.00v-7M267.70 440.00v7M267.70 3.00v-7M328.50 440.00v7M328.50 3.00v-7M389.30 440.00v7M389.30 3.00v-7M450.10 440.00v7M450.10 3.00v-7M474.42 440.00v4M474.42 3.00v-4M462.26 440.00v4M462.26 3.00v-4M437.94 440.00v4M437.94 3.00v-4M425.78 440.00v4M425.78 3.00v-4M413.62 440.00v4M413.62 3.00v-4M401.46 440.00v4M401.46 3.00v-4M377.14 440.00v4M377.14 3.00v-4M364.98 440.00v4M364.98 3.00v-4M352.82 440.00v4M352.82 3.00v-4M340.66 440.00v4M340.66 3.00v-4M316.34 440.00v4M316.34 3.00v-4M304.18 440.00v4M304.18 3.00v-4M292.02 440.00v4M292.02 3.00v-4M279.86 440.00v4M279.86 3.00v-4M255.54 440.00v4M255.54 3.00v-4M243.38 440.00v4M243.38 3.00v-4M231.22 440.00v4M231.22 3.00v-4M219.06 440.00v4M219.06 3.00v-4M194.74 440.00v4M194.74 3.00v-4M182.58 440.00v4M182.58 3.00v-4M170.42 440.00v4M170.42 3.00v-4M158.26 440.00v4M158.26 3.00v-4M133.94 440.00v4M133.94 3.00v-4M121.78 440.00v4M121.78 3.00v-4M109.62 440.00v4M109.62 3.00v-4M97.46 440.00v4M97.46 3.00v-4M73.14 440.00v4M73.14 3.00v-4M60.98 440.00v4M60.98 3.00v-4M520.55 440.00v7M520.55 3.00v-7M581.35 440.00v7M581.35 3.00v-7M642.15 440.00v7M642.15 3.00v-7M702.95 440.00v7M702.95 3.00v-7M763.75 440.00v7M763.75 3.00v-7M824.55 440.00v7M824.55 3.00v-7M885.35 440.00v7M885.35 3.00v-7M909.67 440.00v4M909.67 3.00v-4M897.51 440.00v4M897.51 3.00v-4M873.19 440.00v4M873.19 3.00v-4M861.03 440.00v4M861.03 3.00v-4M848.87 440.00v4M848.87 3.00v-4M836.71 440.00v4M836.71 3.00v-4M812.39 440.00v4M812.39 3.00v-4M800.23 440.00v4M800.23 3.00v-4M788.07 440.00v4M788.07 3.00v-4M775.91 440.00v4M775.91 3.00v-4M751.59 440.00v4M751.59 3.00v-4M739.43 440.00v4M739.43 3.00v-4M727.27 440.00v4M727.27 3.00v-4M715.11 440.00v4M715.11 3.00v-4M690.79 440.00v4M690.79 3.00v-4M678.63 440.00v4M678.63 3.00v-4M666.47 440.00v4M666.47 3.00v-4M654.31 440.00v4M654.31 3.00v-4M629.99 440.00v4M629.99 3.00v-4M617.83 440.00v4M617.83 3.00v-4M605.67 440.00v4M605.67 3.00v-4M593.51 440.00v4M593.51 3.00v-4M569.19 440.00v4M569.19 3.00v-4M557.03 440.00v4M557.03 3.00v-4M544.87 440.00v4M544.87 3.00v-4M532.71 440.00v4M532.71 3.00v-4M508.39 440.00v4M508.39 3.00v-4M496.23 440.00v4M496.23 3.00v-4M48.50 39.50h-7M921.30 39.50h7M48.50 100.15h-7M921.30 100.15h7M48.50 160.80h-7M921.30 160.80h7M48.50 221.45h-7M921.30 221.45h7M48.50 282.10h-7M921.30 282.10h7M48.50 342.75h-7M921.30 342.75h7M48.50 403.40h-7M921.30 403.40h7M48.50 427.66h-4M921.30 427.66h4M48.50 415.53h-4M921.30 415.53h4M48.50 391.27h-4M921.30 391.27h4M48.50 379.14h-4M921.30 379.14h4M48.50 367.01h-4M921.30 367.01h4M48.50 354.88h-4M921.30 354.88h4M48.50 330.62h-4M921.30 330.62h4M48.50 318.49h-4M921.30 318.49h4M48.50 306.36h-4M921.30 306.36h4M48.50 294.23h-4M921.30 294.23h4M48.50 269.97h-4M921.30 269.97h4M48.50 257.84h-4M921.30 257.84h4M48.50 245.71h-4M921.30 245.71h4M48.50 233.58h-4M921.30 233.58h4M48.50 209.32h-4M921.30 209.32h4M48.50 197.19h-4M921.30 197.19h4M48.50 185.06h-4M921.30 185.06h4M48.50 172.93h-4M921.30 172.93h4M48.50 148.67h-4M921.30 148.67h4M48.50 136.54h-4M921.30 136.54h4M48.50 124.41h-4M921.30 124.41h4M48.50 112.28h-4M921.30 112.28h4M48.50 88.02h-4M921.30 88.02h4M48.50 75.89h-4M921.30 75.89h4M48.50 63.76h-4M921.30 63.76h4M48.50 51.63h-4M921.30 51.63h4M48.50 27.37h-4M921.30 27.37h4M48.50 15.24h-4M921.30 15.24h4" stroke="#000" stroke-width="1.25" fill="none"/><g font-family="DejaVu Serif, serif" font-size="15.8" fill="#1a1a1a"><text x="38.6" y="46.10" text-anchor="end">1.5</text><text x="38.6" y="106.75" text-anchor="end">1.0</text><text x="38.6" y="167.40" text-anchor="end">0.5</text><text x="38.6" y="228.05" text-anchor="end">0.0</text><text x="38.6" y="288.70" text-anchor="end">−0.5</text><text x="38.6" y="349.35" text-anchor="end">−1.0</text><text x="38.6" y="410.00" text-anchor="end">−1.5</text><text x="85.30" y="462.8" text-anchor="middle">1.5</text><text x="146.10" y="462.8" text-anchor="middle">1.0</text><text x="206.90" y="462.8" text-anchor="middle">0.5</text><text x="267.70" y="462.8" text-anchor="middle">0.0</text><text x="328.50" y="462.8" text-anchor="middle">−0.5</text><text x="389.30" y="462.8" text-anchor="middle">−1.0</text><text x="450.10" y="462.8" text-anchor="middle">−1.5</text><text x="520.55" y="462.8" text-anchor="middle">1.5</text><text x="581.35" y="462.8" text-anchor="middle">1.0</text><text x="642.15" y="462.8" text-anchor="middle">0.5</text><text x="702.95" y="462.8" text-anchor="middle">0.0</text><text x="763.75" y="462.8" text-anchor="middle">−0.5</text><text x="824.55" y="462.8" text-anchor="middle">−1.0</text><text x="885.35" y="462.8" text-anchor="middle">−1.5</text></g></svg></body></html>
